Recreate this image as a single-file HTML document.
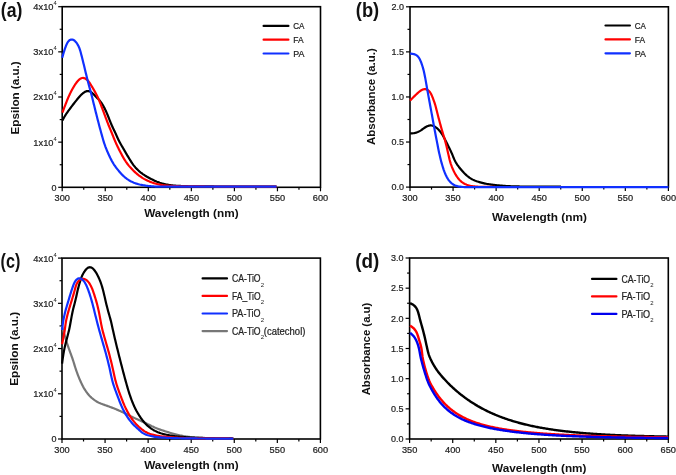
<!DOCTYPE html>
<html><head><meta charset="utf-8"><style>
html,body{margin:0;padding:0;background:#fff;width:676px;height:475px;overflow:hidden;position:relative}
</style></head><body>
<svg width="676" height="475" viewBox="0 0 676 475" style="position:absolute;left:0;top:0;will-change:transform">
<rect x="0" y="0" width="676" height="475" fill="#ffffff"/>
<g font-family='"Liberation Sans", sans-serif'>
<rect x="62.20" y="6.70" width="258.30" height="180.60" fill="none" stroke="#000" stroke-width="1.60"/>
<line x1="62.20" y1="187.30" x2="62.20" y2="191.30" stroke="#000" stroke-width="1.2"/>
<text x="62.20" y="201.20" font-size="9.00" text-anchor="middle" textLength="15.40" lengthAdjust="spacingAndGlyphs" fill="#222" stroke="#222" stroke-width="0.22" >300</text>
<line x1="83.73" y1="187.30" x2="83.73" y2="189.80" stroke="#000" stroke-width="1.2"/>
<line x1="105.25" y1="187.30" x2="105.25" y2="191.30" stroke="#000" stroke-width="1.2"/>
<text x="105.25" y="201.20" font-size="9.00" text-anchor="middle" textLength="15.40" lengthAdjust="spacingAndGlyphs" fill="#222" stroke="#222" stroke-width="0.22" >350</text>
<line x1="126.78" y1="187.30" x2="126.78" y2="189.80" stroke="#000" stroke-width="1.2"/>
<line x1="148.30" y1="187.30" x2="148.30" y2="191.30" stroke="#000" stroke-width="1.2"/>
<text x="148.30" y="201.20" font-size="9.00" text-anchor="middle" textLength="15.40" lengthAdjust="spacingAndGlyphs" fill="#222" stroke="#222" stroke-width="0.22" >400</text>
<line x1="169.83" y1="187.30" x2="169.83" y2="189.80" stroke="#000" stroke-width="1.2"/>
<line x1="191.35" y1="187.30" x2="191.35" y2="191.30" stroke="#000" stroke-width="1.2"/>
<text x="191.35" y="201.20" font-size="9.00" text-anchor="middle" textLength="15.40" lengthAdjust="spacingAndGlyphs" fill="#222" stroke="#222" stroke-width="0.22" >450</text>
<line x1="212.88" y1="187.30" x2="212.88" y2="189.80" stroke="#000" stroke-width="1.2"/>
<line x1="234.40" y1="187.30" x2="234.40" y2="191.30" stroke="#000" stroke-width="1.2"/>
<text x="234.40" y="201.20" font-size="9.00" text-anchor="middle" textLength="15.40" lengthAdjust="spacingAndGlyphs" fill="#222" stroke="#222" stroke-width="0.22" >500</text>
<line x1="255.93" y1="187.30" x2="255.93" y2="189.80" stroke="#000" stroke-width="1.2"/>
<line x1="277.45" y1="187.30" x2="277.45" y2="191.30" stroke="#000" stroke-width="1.2"/>
<text x="277.45" y="201.20" font-size="9.00" text-anchor="middle" textLength="15.40" lengthAdjust="spacingAndGlyphs" fill="#222" stroke="#222" stroke-width="0.22" >550</text>
<line x1="298.97" y1="187.30" x2="298.97" y2="189.80" stroke="#000" stroke-width="1.2"/>
<line x1="320.50" y1="187.30" x2="320.50" y2="191.30" stroke="#000" stroke-width="1.2"/>
<text x="320.50" y="201.20" font-size="9.00" text-anchor="middle" textLength="15.40" lengthAdjust="spacingAndGlyphs" fill="#222" stroke="#222" stroke-width="0.22" >600</text>
<line x1="58.20" y1="187.30" x2="62.20" y2="187.30" stroke="#000" stroke-width="1.2"/>
<line x1="59.70" y1="164.73" x2="62.20" y2="164.73" stroke="#000" stroke-width="1.2"/>
<text x="56.50" y="190.50" font-size="9.00" text-anchor="end" textLength="5.00" lengthAdjust="spacingAndGlyphs" fill="#222" stroke="#222" stroke-width="0.22" >0</text>
<line x1="58.20" y1="142.15" x2="62.20" y2="142.15" stroke="#000" stroke-width="1.2"/>
<line x1="59.70" y1="119.58" x2="62.20" y2="119.58" stroke="#000" stroke-width="1.2"/>
<text x="53.50" y="145.55" font-size="9.60" text-anchor="end" textLength="20.20" lengthAdjust="spacingAndGlyphs" fill="#222" stroke="#222" stroke-width="0.22" >1x10</text>
<text x="53.60" y="140.55" font-size="5.80" text-anchor="start" fill="#222" >4</text>
<line x1="58.20" y1="97.00" x2="62.20" y2="97.00" stroke="#000" stroke-width="1.2"/>
<line x1="59.70" y1="74.42" x2="62.20" y2="74.42" stroke="#000" stroke-width="1.2"/>
<text x="53.50" y="100.40" font-size="9.60" text-anchor="end" textLength="20.20" lengthAdjust="spacingAndGlyphs" fill="#222" stroke="#222" stroke-width="0.22" >2x10</text>
<text x="53.60" y="95.40" font-size="5.80" text-anchor="start" fill="#222" >4</text>
<line x1="58.20" y1="51.85" x2="62.20" y2="51.85" stroke="#000" stroke-width="1.2"/>
<line x1="59.70" y1="29.27" x2="62.20" y2="29.27" stroke="#000" stroke-width="1.2"/>
<text x="53.50" y="55.25" font-size="9.60" text-anchor="end" textLength="20.20" lengthAdjust="spacingAndGlyphs" fill="#222" stroke="#222" stroke-width="0.22" >3x10</text>
<text x="53.60" y="50.25" font-size="5.80" text-anchor="start" fill="#222" >4</text>
<line x1="58.20" y1="6.70" x2="62.20" y2="6.70" stroke="#000" stroke-width="1.2"/>
<text x="53.50" y="10.10" font-size="9.60" text-anchor="end" textLength="20.20" lengthAdjust="spacingAndGlyphs" fill="#222" stroke="#222" stroke-width="0.22" >4x10</text>
<text x="53.60" y="5.10" font-size="5.80" text-anchor="start" fill="#222" >4</text>
<path d="M62.40,120.60 L62.86,119.71 L63.32,118.82 L63.80,117.94 L64.28,117.07 L64.78,116.20 L65.30,115.35 L65.84,114.50 L66.39,113.67 L66.96,112.85 L67.53,112.03 L68.12,111.21 L68.70,110.40 L69.30,109.60 L69.89,108.79 L70.49,107.99 L71.09,107.19 L71.69,106.39 L72.30,105.59 L72.91,104.79 L73.52,104.00 L74.13,103.21 L74.75,102.42 L75.37,101.63 L75.99,100.85 L76.61,100.07 L77.24,99.29 L77.87,98.51 L78.52,97.74 L79.17,96.98 L79.83,96.24 L80.52,95.51 L81.22,94.81 L81.95,94.13 L82.70,93.48 L83.48,92.86 L84.29,92.30 L85.12,91.81 L85.98,91.43 L86.87,91.17 L87.77,91.06 L88.67,91.11 L89.54,91.33 L90.38,91.70 L91.18,92.19 L91.94,92.78 L92.66,93.44 L93.37,94.14 L94.06,94.85 L94.77,95.56 L95.47,96.27 L96.19,96.97 L96.90,97.67 L97.61,98.37 L98.31,99.09 L98.99,99.82 L99.65,100.57 L100.28,101.34 L100.88,102.14 L101.46,102.95 L102.01,103.78 L102.54,104.63 L103.05,105.49 L103.54,106.36 L104.02,107.24 L104.48,108.13 L104.93,109.02 L105.37,109.92 L105.80,110.83 L106.21,111.74 L106.62,112.65 L107.01,113.57 L107.40,114.49 L107.78,115.42 L108.15,116.35 L108.52,117.28 L108.88,118.21 L109.25,119.15 L109.61,120.08 L109.98,121.01 L110.35,121.94 L110.73,122.87 L111.12,123.79 L111.51,124.71 L111.92,125.63 L112.33,126.54 L112.75,127.45 L113.17,128.35 L113.60,129.26 L114.04,130.16 L114.47,131.06 L114.90,131.97 L115.32,132.88 L115.74,133.79 L116.15,134.70 L116.56,135.61 L116.97,136.53 L117.38,137.44 L117.79,138.35 L118.21,139.26 L118.64,140.16 L119.09,141.06 L119.55,141.95 L120.02,142.83 L120.50,143.71 L120.99,144.58 L121.49,145.45 L121.99,146.31 L122.50,147.18 L123.01,148.04 L123.52,148.90 L124.02,149.76 L124.53,150.63 L125.03,151.50 L125.53,152.36 L126.04,153.23 L126.54,154.09 L127.05,154.96 L127.56,155.82 L128.07,156.68 L128.59,157.54 L129.11,158.39 L129.63,159.25 L130.15,160.10 L130.69,160.95 L131.22,161.79 L131.77,162.63 L132.33,163.46 L132.91,164.27 L133.50,165.08 L134.12,165.87 L134.75,166.64 L135.40,167.40 L136.07,168.14 L136.75,168.87 L137.46,169.58 L138.17,170.28 L138.91,170.95 L139.66,171.62 L140.42,172.26 L141.21,172.88 L142.00,173.48 L142.81,174.07 L143.64,174.63 L144.47,175.18 L145.32,175.71 L146.18,176.23 L147.04,176.74 L147.91,177.23 L148.79,177.72 L149.67,178.20 L150.55,178.67 L151.44,179.13 L152.33,179.59 L153.22,180.03 L154.13,180.46 L155.03,180.88 L155.95,181.29 L156.87,181.68 L157.80,182.04 L158.74,182.39 L159.68,182.72 L160.64,183.02 L161.59,183.31 L162.56,183.57 L163.53,183.82 L164.50,184.05 L165.48,184.26 L166.46,184.46 L167.44,184.64 L168.43,184.81 L169.42,184.97 L170.41,185.12 L171.40,185.25 L172.39,185.37 L173.39,185.48 L174.38,185.58 L175.38,185.67 L176.38,185.75 L177.38,185.82 L178.38,185.87 L179.38,185.93 L180.38,185.97 L181.38,186.01 L182.38,186.05 L183.38,186.08 L184.38,186.12 L185.38,186.15 L186.38,186.18 L187.38,186.21 L188.38,186.24 L189.39,186.26 L190.39,186.29 L191.39,186.31 L192.39,186.33 L193.39,186.35 L194.39,186.36 L195.39,186.38 L196.39,186.39 L197.39,186.40 L198.40,186.41 L199.40,186.42 L200.40,186.43 L201.40,186.43 L202.40,186.44 L203.40,186.44 L204.40,186.45 L205.41,186.45 L206.41,186.45 L207.41,186.46 L208.41,186.46 L209.41,186.46 L210.41,186.47 L211.41,186.47 L212.41,186.47 L213.42,186.47 L214.42,186.48 L215.42,186.48 L216.42,186.48 L217.42,186.49 L218.42,186.49 L219.42,186.50 L220.43,186.50 L221.43,186.51 L222.43,186.51 L223.43,186.52 L224.43,186.52 L225.43,186.52 L226.43,186.53 L227.43,186.53 L228.44,186.53 L229.44,186.54 L230.44,186.54 L231.44,186.54 L232.44,186.55 L233.44,186.55 L234.44,186.55 L235.45,186.55 L236.45,186.56 L237.45,186.56 L238.45,186.56 L239.45,186.56 L240.45,186.56 L241.45,186.56 L242.45,186.56 L243.46,186.57 L244.46,186.57 L245.46,186.57 L246.46,186.57 L247.46,186.57 L248.46,186.57 L249.46,186.57 L250.47,186.57 L251.47,186.57 L252.47,186.58 L253.47,186.58 L254.47,186.58 L255.47,186.58 L256.47,186.58 L257.47,186.58 L258.48,186.58 L259.48,186.58 L260.48,186.58 L261.48,186.58 L262.48,186.58 L263.48,186.58 L264.48,186.58 L265.49,186.59 L266.49,186.59 L267.49,186.59 L268.49,186.59 L269.49,186.59 L270.49,186.59 L271.49,186.59 L272.49,186.59 L273.50,186.60 L274.50,186.60 L275.50,186.60 L276.50,186.60 L276.50,186.60" fill="none" stroke="#000000" stroke-width="2.20" stroke-linejoin="round" stroke-linecap="butt"/>
<path d="M62.40,112.60 L62.75,111.66 L63.11,110.73 L63.46,109.79 L63.82,108.86 L64.18,107.92 L64.53,106.98 L64.89,106.05 L65.25,105.11 L65.61,104.18 L65.97,103.24 L66.33,102.31 L66.70,101.38 L67.06,100.45 L67.44,99.52 L67.82,98.59 L68.21,97.67 L68.61,96.76 L69.02,95.84 L69.44,94.93 L69.86,94.03 L70.30,93.12 L70.74,92.23 L71.19,91.33 L71.66,90.45 L72.13,89.57 L72.62,88.69 L73.11,87.82 L73.62,86.96 L74.14,86.10 L74.67,85.25 L75.21,84.41 L75.77,83.59 L76.35,82.77 L76.96,81.98 L77.59,81.22 L78.26,80.48 L78.96,79.80 L79.70,79.18 L80.48,78.66 L81.30,78.26 L82.16,78.01 L83.03,77.95 L83.91,78.06 L84.77,78.33 L85.60,78.75 L86.39,79.28 L87.14,79.90 L87.84,80.58 L88.49,81.32 L89.10,82.10 L89.67,82.92 L90.21,83.75 L90.73,84.60 L91.25,85.46 L91.76,86.32 L92.27,87.18 L92.78,88.04 L93.28,88.91 L93.79,89.77 L94.29,90.64 L94.78,91.51 L95.26,92.39 L95.74,93.27 L96.21,94.15 L96.66,95.04 L97.11,95.94 L97.54,96.84 L97.96,97.75 L98.37,98.66 L98.77,99.58 L99.16,100.50 L99.54,101.43 L99.91,102.36 L100.28,103.29 L100.64,104.22 L101.01,105.16 L101.37,106.09 L101.72,107.03 L102.08,107.96 L102.44,108.90 L102.79,109.83 L103.15,110.77 L103.50,111.71 L103.85,112.64 L104.20,113.58 L104.55,114.52 L104.90,115.46 L105.24,116.40 L105.59,117.34 L105.94,118.28 L106.29,119.22 L106.64,120.15 L106.99,121.09 L107.35,122.03 L107.71,122.96 L108.07,123.89 L108.44,124.82 L108.82,125.75 L109.19,126.68 L109.57,127.60 L109.96,128.53 L110.34,129.45 L110.73,130.38 L111.11,131.30 L111.49,132.23 L111.87,133.16 L112.25,134.08 L112.62,135.01 L112.99,135.94 L113.36,136.87 L113.74,137.80 L114.11,138.73 L114.49,139.66 L114.87,140.58 L115.27,141.50 L115.66,142.42 L116.07,143.34 L116.48,144.25 L116.90,145.16 L117.33,146.06 L117.76,146.97 L118.20,147.86 L118.65,148.76 L119.10,149.66 L119.55,150.55 L120.01,151.44 L120.47,152.33 L120.94,153.21 L121.41,154.10 L121.88,154.98 L122.35,155.86 L122.84,156.74 L123.33,157.61 L123.83,158.47 L124.35,159.33 L124.87,160.18 L125.42,161.02 L125.97,161.85 L126.55,162.67 L127.14,163.48 L127.74,164.28 L128.36,165.06 L128.99,165.84 L129.64,166.60 L130.29,167.36 L130.96,168.10 L131.64,168.84 L132.33,169.56 L133.04,170.27 L133.75,170.97 L134.47,171.66 L135.21,172.34 L135.95,173.01 L136.71,173.67 L137.48,174.31 L138.26,174.93 L139.05,175.55 L139.85,176.14 L140.67,176.72 L141.49,177.28 L142.33,177.82 L143.18,178.35 L144.05,178.86 L144.92,179.34 L145.80,179.81 L146.70,180.26 L147.60,180.69 L148.51,181.11 L149.43,181.50 L150.35,181.88 L151.29,182.23 L152.23,182.57 L153.18,182.89 L154.13,183.20 L155.09,183.49 L156.05,183.76 L157.02,184.01 L157.99,184.24 L158.97,184.46 L159.95,184.66 L160.93,184.85 L161.92,185.02 L162.90,185.17 L163.90,185.30 L164.89,185.42 L165.88,185.53 L166.88,185.62 L167.88,185.70 L168.88,185.77 L169.88,185.83 L170.88,185.89 L171.88,185.94 L172.88,185.99 L173.88,186.04 L174.88,186.08 L175.88,186.13 L176.88,186.16 L177.88,186.20 L178.88,186.23 L179.88,186.26 L180.88,186.29 L181.88,186.31 L182.88,186.33 L183.88,186.35 L184.88,186.37 L185.89,186.38 L186.89,186.39 L187.89,186.40 L188.89,186.41 L189.89,186.42 L190.89,186.43 L191.89,186.43 L192.89,186.44 L193.90,186.44 L194.90,186.45 L195.90,186.45 L196.90,186.45 L197.90,186.46 L198.90,186.46 L199.90,186.46 L200.90,186.46 L201.91,186.47 L202.91,186.47 L203.91,186.47 L204.91,186.48 L205.91,186.48 L206.91,186.48 L207.91,186.49 L208.91,186.49 L209.92,186.50 L210.92,186.51 L211.92,186.51 L212.92,186.52 L213.92,186.52 L214.92,186.53 L215.92,186.53 L216.92,186.54 L217.93,186.54 L218.93,186.54 L219.93,186.55 L220.93,186.55 L221.93,186.55 L222.93,186.56 L223.93,186.56 L224.93,186.56 L225.94,186.56 L226.94,186.57 L227.94,186.57 L228.94,186.57 L229.94,186.57 L230.94,186.57 L231.94,186.57 L232.94,186.58 L233.95,186.58 L234.95,186.58 L235.95,186.58 L236.95,186.58 L237.95,186.58 L238.95,186.58 L239.95,186.58 L240.95,186.58 L241.96,186.58 L242.96,186.58 L243.96,186.58 L244.96,186.58 L245.96,186.58 L246.96,186.58 L247.96,186.58 L248.96,186.59 L249.97,186.59 L250.97,186.59 L251.97,186.59 L252.97,186.59 L253.97,186.59 L254.97,186.59 L255.97,186.59 L256.98,186.59 L257.98,186.59 L258.98,186.59 L259.98,186.59 L260.98,186.59 L261.98,186.59 L262.98,186.59 L263.98,186.59 L264.99,186.59 L265.99,186.59 L266.99,186.59 L267.99,186.59 L268.99,186.59 L269.99,186.59 L270.99,186.59 L271.99,186.59 L273.00,186.60 L274.00,186.60 L275.00,186.60 L276.00,186.60 L276.50,186.60" fill="none" stroke="#ff0000" stroke-width="2.20" stroke-linejoin="round" stroke-linecap="butt"/>
<path d="M62.20,57.80 L62.47,56.84 L62.75,55.87 L63.02,54.91 L63.30,53.95 L63.59,52.99 L63.88,52.04 L64.18,51.08 L64.48,50.13 L64.79,49.18 L65.12,48.23 L65.45,47.29 L65.80,46.35 L66.17,45.42 L66.57,44.51 L66.99,43.61 L67.45,42.74 L67.96,41.91 L68.54,41.16 L69.18,40.50 L69.89,39.98 L70.66,39.63 L71.47,39.48 L72.30,39.53 L73.12,39.79 L73.91,40.21 L74.66,40.76 L75.35,41.42 L76.00,42.15 L76.60,42.93 L77.15,43.75 L77.67,44.60 L78.15,45.47 L78.60,46.36 L79.00,47.27 L79.38,48.20 L79.72,49.13 L80.04,50.08 L80.33,51.04 L80.61,52.00 L80.87,52.96 L81.12,53.93 L81.37,54.90 L81.62,55.87 L81.87,56.84 L82.11,57.81 L82.36,58.78 L82.60,59.75 L82.84,60.72 L83.08,61.69 L83.32,62.66 L83.56,63.64 L83.80,64.61 L84.03,65.58 L84.27,66.55 L84.50,67.53 L84.73,68.50 L84.96,69.47 L85.20,70.45 L85.43,71.42 L85.66,72.39 L85.90,73.37 L86.13,74.34 L86.37,75.31 L86.61,76.28 L86.85,77.26 L87.09,78.23 L87.33,79.20 L87.57,80.17 L87.82,81.14 L88.07,82.11 L88.32,83.08 L88.57,84.04 L88.83,85.01 L89.10,85.98 L89.37,86.94 L89.64,87.90 L89.91,88.87 L90.18,89.83 L90.45,90.79 L90.71,91.76 L90.97,92.73 L91.23,93.69 L91.48,94.66 L91.73,95.63 L91.97,96.60 L92.21,97.57 L92.45,98.55 L92.68,99.52 L92.92,100.49 L93.15,101.46 L93.39,102.44 L93.63,103.41 L93.87,104.38 L94.11,105.35 L94.35,106.32 L94.59,107.30 L94.83,108.27 L95.07,109.24 L95.31,110.21 L95.55,111.18 L95.79,112.15 L96.03,113.12 L96.28,114.09 L96.52,115.06 L96.76,116.04 L97.01,117.01 L97.26,117.98 L97.51,118.94 L97.76,119.91 L98.01,120.88 L98.26,121.85 L98.51,122.82 L98.77,123.79 L99.02,124.76 L99.28,125.72 L99.53,126.69 L99.79,127.66 L100.05,128.62 L100.31,129.59 L100.58,130.56 L100.84,131.52 L101.10,132.49 L101.37,133.45 L101.64,134.41 L101.91,135.38 L102.17,136.34 L102.44,137.31 L102.72,138.27 L102.99,139.23 L103.27,140.19 L103.56,141.15 L103.85,142.11 L104.16,143.06 L104.47,144.01 L104.80,144.96 L105.14,145.90 L105.48,146.84 L105.84,147.77 L106.21,148.70 L106.58,149.63 L106.96,150.55 L107.35,151.47 L107.75,152.39 L108.15,153.31 L108.56,154.22 L108.98,155.13 L109.40,156.04 L109.83,156.95 L110.26,157.85 L110.70,158.74 L111.16,159.63 L111.62,160.52 L112.10,161.40 L112.60,162.27 L113.11,163.13 L113.63,163.98 L114.17,164.82 L114.73,165.65 L115.30,166.47 L115.89,167.28 L116.49,168.08 L117.10,168.87 L117.72,169.65 L118.36,170.42 L119.00,171.19 L119.65,171.95 L120.32,172.70 L120.99,173.44 L121.67,174.17 L122.36,174.89 L123.07,175.60 L123.79,176.29 L124.53,176.95 L125.29,177.60 L126.07,178.22 L126.87,178.82 L127.69,179.39 L128.53,179.93 L129.38,180.45 L130.25,180.94 L131.13,181.41 L132.03,181.85 L132.94,182.26 L133.86,182.65 L134.79,183.02 L135.72,183.36 L136.67,183.67 L137.63,183.96 L138.59,184.23 L139.56,184.48 L140.53,184.70 L141.51,184.91 L142.49,185.11 L143.48,185.29 L144.46,185.45 L145.45,185.60 L146.44,185.74 L147.43,185.87 L148.43,186.00 L149.42,186.11 L150.42,186.21 L151.41,186.29 L152.41,186.37 L153.41,186.43 L154.41,186.49 L155.41,186.53 L156.41,186.56 L157.41,186.58 L158.41,186.59 L159.41,186.60 L160.41,186.60 L161.41,186.60 L162.41,186.60 L163.41,186.59 L164.41,186.59 L165.41,186.59 L166.41,186.59 L167.41,186.59 L168.41,186.59 L169.42,186.60 L170.42,186.61 L171.42,186.61 L172.42,186.62 L173.42,186.63 L174.42,186.63 L175.42,186.64 L176.42,186.65 L177.42,186.65 L178.42,186.66 L179.42,186.66 L180.42,186.67 L181.42,186.67 L182.43,186.67 L183.43,186.68 L184.43,186.68 L185.43,186.68 L186.43,186.68 L187.43,186.68 L188.43,186.69 L189.43,186.69 L190.43,186.69 L191.43,186.69 L192.43,186.69 L193.43,186.69 L194.44,186.69 L195.44,186.69 L196.44,186.69 L197.44,186.69 L198.44,186.69 L199.44,186.70 L200.44,186.69 L201.44,186.69 L202.44,186.69 L203.44,186.69 L204.44,186.69 L205.44,186.69 L206.44,186.69 L207.45,186.69 L208.45,186.69 L209.45,186.69 L210.45,186.69 L211.45,186.69 L212.45,186.69 L213.45,186.69 L214.45,186.68 L215.45,186.68 L216.45,186.68 L217.45,186.68 L218.45,186.68 L219.45,186.68 L220.46,186.68 L221.46,186.68 L222.46,186.67 L223.46,186.67 L224.46,186.67 L225.46,186.67 L226.46,186.67 L227.46,186.67 L228.46,186.66 L229.46,186.66 L230.46,186.66 L231.46,186.66 L232.47,186.66 L233.47,186.66 L234.47,186.65 L235.47,186.65 L236.47,186.65 L237.47,186.65 L238.47,186.65 L239.47,186.64 L240.47,186.64 L241.47,186.64 L242.47,186.64 L243.47,186.64 L244.47,186.64 L245.48,186.63 L246.48,186.63 L247.48,186.63 L248.48,186.63 L249.48,186.63 L250.48,186.63 L251.48,186.62 L252.48,186.62 L253.48,186.62 L254.48,186.62 L255.48,186.62 L256.48,186.62 L257.48,186.62 L258.49,186.61 L259.49,186.61 L260.49,186.61 L261.49,186.61 L262.49,186.61 L263.49,186.61 L264.49,186.61 L265.49,186.61 L266.49,186.61 L267.49,186.60 L268.49,186.60 L269.49,186.60 L270.50,186.60 L271.50,186.60 L272.50,186.60 L273.50,186.60 L274.50,186.60 L275.50,186.60 L276.50,186.60 L276.50,186.60" fill="none" stroke="#1030ff" stroke-width="2.20" stroke-linejoin="round" stroke-linecap="butt"/>
<text x="191.40" y="216.60" font-size="11.70" text-anchor="middle" font-weight="bold" textLength="94.40" lengthAdjust="spacingAndGlyphs" fill="#111" >Wavelength (nm)</text>
<text x="19.20" y="97.90" font-size="11.60" text-anchor="middle" font-weight="bold" textLength="73.00" lengthAdjust="spacingAndGlyphs" transform="rotate(-90 19.20 97.90)" fill="#111" >Epsilon (a.u.)</text>
<text x="0.80" y="16.90" font-size="19.60" text-anchor="start" font-weight="bold" textLength="21.60" lengthAdjust="spacingAndGlyphs" fill="#111" >(a)</text>
<line x1="263.6" y1="25.90" x2="288.4" y2="25.90" stroke="#000000" stroke-width="2.2" stroke-linecap="round"/>
<text x="293.30" y="29.10" font-size="9.40" text-anchor="start" textLength="11.20" lengthAdjust="spacingAndGlyphs" fill="#222" stroke="#222" stroke-width="0.22" >CA</text>
<line x1="263.6" y1="39.70" x2="288.4" y2="39.70" stroke="#ff0000" stroke-width="2.2" stroke-linecap="round"/>
<text x="293.30" y="42.90" font-size="9.40" text-anchor="start" textLength="10.30" lengthAdjust="spacingAndGlyphs" fill="#222" stroke="#222" stroke-width="0.22" >FA</text>
<line x1="263.6" y1="53.50" x2="288.4" y2="53.50" stroke="#1030ff" stroke-width="2.2" stroke-linecap="round"/>
<text x="293.30" y="56.70" font-size="9.40" text-anchor="start" textLength="11.20" lengthAdjust="spacingAndGlyphs" fill="#222" stroke="#222" stroke-width="0.22" >PA</text>
<rect x="410.00" y="6.80" width="258.40" height="180.30" fill="none" stroke="#000" stroke-width="1.60"/>
<line x1="410.00" y1="187.10" x2="410.00" y2="191.10" stroke="#000" stroke-width="1.2"/>
<text x="410.00" y="201.00" font-size="9.00" text-anchor="middle" textLength="15.40" lengthAdjust="spacingAndGlyphs" fill="#222" stroke="#222" stroke-width="0.22" >300</text>
<line x1="431.53" y1="187.10" x2="431.53" y2="189.60" stroke="#000" stroke-width="1.2"/>
<line x1="453.07" y1="187.10" x2="453.07" y2="191.10" stroke="#000" stroke-width="1.2"/>
<text x="453.07" y="201.00" font-size="9.00" text-anchor="middle" textLength="15.40" lengthAdjust="spacingAndGlyphs" fill="#222" stroke="#222" stroke-width="0.22" >350</text>
<line x1="474.60" y1="187.10" x2="474.60" y2="189.60" stroke="#000" stroke-width="1.2"/>
<line x1="496.13" y1="187.10" x2="496.13" y2="191.10" stroke="#000" stroke-width="1.2"/>
<text x="496.13" y="201.00" font-size="9.00" text-anchor="middle" textLength="15.40" lengthAdjust="spacingAndGlyphs" fill="#222" stroke="#222" stroke-width="0.22" >400</text>
<line x1="517.67" y1="187.10" x2="517.67" y2="189.60" stroke="#000" stroke-width="1.2"/>
<line x1="539.20" y1="187.10" x2="539.20" y2="191.10" stroke="#000" stroke-width="1.2"/>
<text x="539.20" y="201.00" font-size="9.00" text-anchor="middle" textLength="15.40" lengthAdjust="spacingAndGlyphs" fill="#222" stroke="#222" stroke-width="0.22" >450</text>
<line x1="560.73" y1="187.10" x2="560.73" y2="189.60" stroke="#000" stroke-width="1.2"/>
<line x1="582.27" y1="187.10" x2="582.27" y2="191.10" stroke="#000" stroke-width="1.2"/>
<text x="582.27" y="201.00" font-size="9.00" text-anchor="middle" textLength="15.40" lengthAdjust="spacingAndGlyphs" fill="#222" stroke="#222" stroke-width="0.22" >500</text>
<line x1="603.80" y1="187.10" x2="603.80" y2="189.60" stroke="#000" stroke-width="1.2"/>
<line x1="625.33" y1="187.10" x2="625.33" y2="191.10" stroke="#000" stroke-width="1.2"/>
<text x="625.33" y="201.00" font-size="9.00" text-anchor="middle" textLength="15.40" lengthAdjust="spacingAndGlyphs" fill="#222" stroke="#222" stroke-width="0.22" >550</text>
<line x1="646.87" y1="187.10" x2="646.87" y2="189.60" stroke="#000" stroke-width="1.2"/>
<line x1="668.40" y1="187.10" x2="668.40" y2="191.10" stroke="#000" stroke-width="1.2"/>
<text x="668.40" y="201.00" font-size="9.00" text-anchor="middle" textLength="15.40" lengthAdjust="spacingAndGlyphs" fill="#222" stroke="#222" stroke-width="0.22" >600</text>
<line x1="406.00" y1="187.10" x2="410.00" y2="187.10" stroke="#000" stroke-width="1.2"/>
<line x1="407.50" y1="164.56" x2="410.00" y2="164.56" stroke="#000" stroke-width="1.2"/>
<text x="404.10" y="190.30" font-size="9.00" text-anchor="end" textLength="12.50" lengthAdjust="spacingAndGlyphs" fill="#222" stroke="#222" stroke-width="0.22" >0.0</text>
<line x1="406.00" y1="142.03" x2="410.00" y2="142.03" stroke="#000" stroke-width="1.2"/>
<line x1="407.50" y1="119.49" x2="410.00" y2="119.49" stroke="#000" stroke-width="1.2"/>
<text x="404.10" y="145.22" font-size="9.00" text-anchor="end" textLength="12.50" lengthAdjust="spacingAndGlyphs" fill="#222" stroke="#222" stroke-width="0.22" >0.5</text>
<line x1="406.00" y1="96.95" x2="410.00" y2="96.95" stroke="#000" stroke-width="1.2"/>
<line x1="407.50" y1="74.41" x2="410.00" y2="74.41" stroke="#000" stroke-width="1.2"/>
<text x="404.10" y="100.15" font-size="9.00" text-anchor="end" textLength="12.50" lengthAdjust="spacingAndGlyphs" fill="#222" stroke="#222" stroke-width="0.22" >1.0</text>
<line x1="406.00" y1="51.88" x2="410.00" y2="51.88" stroke="#000" stroke-width="1.2"/>
<line x1="407.50" y1="29.34" x2="410.00" y2="29.34" stroke="#000" stroke-width="1.2"/>
<text x="404.10" y="55.08" font-size="9.00" text-anchor="end" textLength="12.50" lengthAdjust="spacingAndGlyphs" fill="#222" stroke="#222" stroke-width="0.22" >1.5</text>
<line x1="406.00" y1="6.80" x2="410.00" y2="6.80" stroke="#000" stroke-width="1.2"/>
<text x="404.10" y="10.00" font-size="9.00" text-anchor="end" textLength="12.50" lengthAdjust="spacingAndGlyphs" fill="#222" stroke="#222" stroke-width="0.22" >2.0</text>
<path d="M410.10,133.50 L411.10,133.43 L412.09,133.35 L413.08,133.24 L414.06,133.09 L415.03,132.90 L415.99,132.65 L416.93,132.35 L417.85,131.99 L418.75,131.58 L419.63,131.12 L420.48,130.61 L421.31,130.07 L422.13,129.50 L422.94,128.92 L423.75,128.34 L424.57,127.78 L425.40,127.24 L426.26,126.75 L427.14,126.30 L428.04,125.93 L428.96,125.65 L429.89,125.47 L430.83,125.42 L431.76,125.51 L432.68,125.72 L433.57,126.05 L434.45,126.48 L435.29,126.98 L436.10,127.54 L436.88,128.14 L437.63,128.79 L438.35,129.48 L439.04,130.19 L439.70,130.94 L440.33,131.71 L440.92,132.51 L441.49,133.33 L442.03,134.16 L442.55,135.02 L443.06,135.88 L443.55,136.75 L444.03,137.63 L444.50,138.51 L444.96,139.39 L445.42,140.28 L445.87,141.18 L446.32,142.07 L446.76,142.97 L447.20,143.86 L447.65,144.76 L448.09,145.66 L448.53,146.55 L448.98,147.45 L449.43,148.34 L449.87,149.24 L450.31,150.14 L450.74,151.04 L451.16,151.94 L451.57,152.86 L451.97,153.77 L452.36,154.69 L452.73,155.62 L453.11,156.55 L453.48,157.47 L453.87,158.39 L454.27,159.31 L454.69,160.21 L455.14,161.10 L455.62,161.98 L456.12,162.84 L456.64,163.69 L457.19,164.53 L457.75,165.35 L458.33,166.16 L458.92,166.97 L459.53,167.76 L460.15,168.54 L460.79,169.32 L461.43,170.08 L462.09,170.83 L462.76,171.57 L463.45,172.30 L464.14,173.02 L464.85,173.72 L465.57,174.42 L466.30,175.09 L467.05,175.75 L467.82,176.39 L468.61,177.00 L469.41,177.59 L470.24,178.14 L471.08,178.67 L471.95,179.16 L472.83,179.62 L473.73,180.05 L474.64,180.45 L475.57,180.83 L476.50,181.18 L477.45,181.50 L478.40,181.81 L479.35,182.10 L480.31,182.38 L481.28,182.64 L482.24,182.90 L483.21,183.14 L484.19,183.36 L485.16,183.57 L486.14,183.77 L487.13,183.96 L488.11,184.13 L489.10,184.28 L490.09,184.43 L491.08,184.57 L492.07,184.70 L493.06,184.82 L494.05,184.94 L495.05,185.05 L496.04,185.16 L497.04,185.27 L498.03,185.37 L499.03,185.46 L500.02,185.55 L501.02,185.64 L502.01,185.72 L503.01,185.79 L504.01,185.86 L505.01,185.92 L506.01,185.98 L507.00,186.04 L508.00,186.09 L509.00,186.14 L510.00,186.19 L511.00,186.23 L512.00,186.27 L513.00,186.31 L514.00,186.34 L515.00,186.37 L516.00,186.40 L517.00,186.42 L518.00,186.44 L519.00,186.46 L520.00,186.48 L521.00,186.49 L522.00,186.51 L523.00,186.52 L524.00,186.53 L525.00,186.54 L526.00,186.56 L527.00,186.57 L528.00,186.58 L529.00,186.59 L530.00,186.60 L531.00,186.61 L532.00,186.62 L533.00,186.63 L534.00,186.63 L535.00,186.64 L536.00,186.65 L537.00,186.65 L538.00,186.66 L539.00,186.66 L540.00,186.67 L541.00,186.67 L542.00,186.67 L543.00,186.67 L544.00,186.68 L545.00,186.68 L546.00,186.68 L547.00,186.68 L548.00,186.68 L549.00,186.68 L550.00,186.68 L551.00,186.68 L552.00,186.68 L553.00,186.69 L554.00,186.69 L555.00,186.69 L556.00,186.69 L557.00,186.69 L558.00,186.69 L559.00,186.70 L560.00,186.70 L561.00,186.70 L561.00,186.70" fill="none" stroke="#000000" stroke-width="2.20" stroke-linejoin="round" stroke-linecap="butt"/>
<path d="M410.00,100.60 L410.71,99.89 L411.41,99.18 L412.12,98.47 L412.82,97.76 L413.53,97.06 L414.25,96.35 L414.96,95.65 L415.68,94.96 L416.40,94.26 L417.13,93.58 L417.87,92.90 L418.62,92.24 L419.39,91.61 L420.17,91.00 L420.98,90.45 L421.82,89.96 L422.69,89.57 L423.59,89.29 L424.50,89.16 L425.41,89.18 L426.30,89.35 L427.16,89.68 L427.96,90.15 L428.70,90.74 L429.37,91.42 L429.97,92.18 L430.51,92.99 L431.00,93.85 L431.45,94.74 L431.86,95.64 L432.25,96.57 L432.62,97.49 L432.97,98.43 L433.32,99.37 L433.67,100.31 L434.00,101.25 L434.33,102.19 L434.65,103.14 L434.96,104.09 L435.25,105.05 L435.53,106.01 L435.80,106.98 L436.05,107.94 L436.30,108.91 L436.54,109.89 L436.78,110.86 L437.02,111.83 L437.26,112.80 L437.51,113.77 L437.76,114.74 L438.01,115.71 L438.27,116.68 L438.52,117.65 L438.78,118.61 L439.03,119.58 L439.29,120.55 L439.55,121.52 L439.81,122.48 L440.07,123.45 L440.33,124.41 L440.60,125.38 L440.87,126.35 L441.13,127.31 L441.41,128.27 L441.68,129.24 L441.96,130.20 L442.24,131.16 L442.53,132.12 L442.82,133.07 L443.11,134.03 L443.41,134.99 L443.70,135.95 L443.99,136.90 L444.28,137.86 L444.56,138.82 L444.84,139.79 L445.11,140.75 L445.37,141.71 L445.63,142.68 L445.88,143.65 L446.12,144.62 L446.35,145.60 L446.59,146.57 L446.81,147.55 L447.04,148.52 L447.26,149.50 L447.49,150.47 L447.71,151.45 L447.93,152.42 L448.15,153.40 L448.37,154.38 L448.59,155.35 L448.81,156.33 L449.03,157.31 L449.26,158.28 L449.49,159.26 L449.74,160.22 L450.00,161.19 L450.28,162.15 L450.57,163.11 L450.88,164.06 L451.21,165.00 L451.55,165.94 L451.91,166.88 L452.29,167.80 L452.68,168.73 L453.08,169.64 L453.50,170.55 L453.94,171.45 L454.39,172.34 L454.86,173.22 L455.35,174.09 L455.86,174.95 L456.39,175.80 L456.93,176.64 L457.50,177.46 L458.10,178.26 L458.73,179.03 L459.38,179.78 L460.07,180.49 L460.80,181.16 L461.56,181.80 L462.36,182.39 L463.18,182.95 L464.04,183.45 L464.91,183.92 L465.81,184.35 L466.73,184.73 L467.66,185.07 L468.61,185.37 L469.57,185.63 L470.54,185.85 L471.52,186.04 L472.51,186.20 L473.50,186.33 L474.50,186.44 L475.49,186.53 L476.49,186.61 L477.49,186.68 L478.49,186.74 L479.49,186.79 L480.49,186.83 L481.49,186.86 L482.49,186.89 L483.49,186.90 L484.49,186.91 L485.49,186.91 L486.49,186.91 L487.49,186.91 L488.49,186.91 L489.49,186.90 L490.49,186.90 L491.50,186.90 L492.50,186.90 L493.50,186.90 L494.50,186.90 L495.00,186.90" fill="none" stroke="#ff0000" stroke-width="2.20" stroke-linejoin="round" stroke-linecap="butt"/>
<path d="M410.10,53.60 L411.09,53.69 L412.08,53.79 L413.05,53.95 L414.00,54.16 L414.91,54.46 L415.78,54.85 L416.60,55.35 L417.35,55.94 L418.03,56.62 L418.63,57.37 L419.18,58.18 L419.66,59.04 L420.10,59.93 L420.51,60.84 L420.89,61.76 L421.25,62.69 L421.59,63.63 L421.92,64.57 L422.23,65.52 L422.53,66.48 L422.82,67.44 L423.09,68.40 L423.35,69.36 L423.60,70.33 L423.84,71.30 L424.06,72.28 L424.27,73.25 L424.48,74.23 L424.68,75.21 L424.88,76.19 L425.07,77.18 L425.26,78.16 L425.44,79.14 L425.62,80.13 L425.80,81.11 L425.98,82.09 L426.15,83.08 L426.32,84.07 L426.49,85.05 L426.66,86.04 L426.83,87.02 L427.01,88.01 L427.18,88.99 L427.35,89.98 L427.53,90.96 L427.71,91.95 L427.88,92.93 L428.06,93.92 L428.24,94.90 L428.42,95.89 L428.60,96.87 L428.78,97.85 L428.96,98.84 L429.14,99.82 L429.32,100.81 L429.50,101.79 L429.69,102.77 L429.87,103.76 L430.05,104.74 L430.23,105.72 L430.42,106.71 L430.60,107.69 L430.78,108.68 L430.96,109.66 L431.14,110.64 L431.32,111.63 L431.50,112.61 L431.68,113.60 L431.87,114.58 L432.05,115.56 L432.23,116.55 L432.41,117.53 L432.59,118.52 L432.76,119.50 L432.94,120.48 L433.12,121.47 L433.30,122.45 L433.48,123.44 L433.66,124.42 L433.84,125.41 L434.02,126.39 L434.20,127.37 L434.38,128.36 L434.56,129.34 L434.74,130.33 L434.92,131.31 L435.11,132.29 L435.30,133.28 L435.48,134.26 L435.67,135.24 L435.86,136.22 L436.06,137.20 L436.25,138.19 L436.44,139.17 L436.63,140.15 L436.82,141.13 L437.01,142.11 L437.20,143.10 L437.39,144.08 L437.58,145.06 L437.76,146.04 L437.95,147.03 L438.14,148.01 L438.34,148.99 L438.53,149.97 L438.74,150.95 L438.94,151.93 L439.15,152.91 L439.37,153.88 L439.59,154.86 L439.81,155.84 L440.04,156.81 L440.27,157.78 L440.51,158.75 L440.75,159.73 L441.00,160.69 L441.26,161.66 L441.52,162.63 L441.79,163.59 L442.07,164.55 L442.35,165.51 L442.64,166.47 L442.93,167.42 L443.24,168.38 L443.55,169.33 L443.88,170.27 L444.22,171.21 L444.57,172.15 L444.94,173.07 L445.33,173.99 L445.74,174.91 L446.17,175.81 L446.61,176.70 L447.09,177.58 L447.59,178.44 L448.12,179.28 L448.68,180.10 L449.29,180.88 L449.93,181.64 L450.62,182.35 L451.34,183.03 L452.11,183.65 L452.91,184.23 L453.74,184.74 L454.62,185.20 L455.52,185.59 L456.45,185.92 L457.40,186.18 L458.37,186.40 L459.35,186.57 L460.34,186.70 L461.33,186.81 L462.32,186.91 L463.32,186.98 L464.32,187.05 L465.32,187.10 L466.31,187.13 L467.31,187.16 L468.31,187.17 L469.31,187.18 L470.31,187.18 L471.32,187.17 L472.32,187.16 L473.32,187.15 L474.32,187.14 L475.32,187.13 L476.32,187.12 L477.32,187.11 L478.32,187.11 L479.32,187.10 L480.32,187.10 L481.32,187.10 L482.32,187.11 L483.32,187.11 L484.32,187.11 L485.32,187.11 L486.32,187.11 L487.32,187.12 L488.32,187.12 L489.32,187.12 L490.32,187.12 L491.32,187.12 L492.32,187.12 L493.32,187.12 L494.32,187.12 L495.33,187.13 L496.33,187.13 L497.33,187.13 L498.33,187.13 L499.33,187.13 L500.33,187.13 L501.33,187.13 L502.33,187.13 L503.33,187.13 L504.33,187.13 L505.33,187.13 L506.33,187.13 L507.33,187.13 L508.33,187.13 L509.33,187.13 L510.33,187.14 L511.33,187.14 L512.33,187.14 L513.33,187.14 L514.33,187.14 L515.33,187.14 L516.33,187.14 L517.33,187.14 L518.34,187.14 L519.34,187.14 L520.34,187.14 L521.34,187.14 L522.34,187.14 L523.34,187.14 L524.34,187.14 L525.34,187.14 L526.34,187.14 L527.34,187.14 L528.34,187.14 L529.34,187.14 L530.34,187.14 L531.34,187.14 L532.34,187.14 L533.34,187.14 L534.34,187.14 L535.34,187.14 L536.34,187.14 L537.34,187.14 L538.34,187.14 L539.34,187.14 L540.34,187.14 L541.35,187.14 L542.35,187.14 L543.35,187.14 L544.35,187.14 L545.35,187.14 L546.35,187.14 L547.35,187.14 L548.35,187.14 L549.35,187.14 L550.35,187.14 L551.35,187.13 L552.35,187.13 L553.35,187.13 L554.35,187.13 L555.35,187.13 L556.35,187.13 L557.35,187.13 L558.35,187.13 L559.35,187.13 L560.35,187.13 L561.35,187.13 L562.35,187.13 L563.35,187.13 L564.36,187.13 L565.36,187.13 L566.36,187.13 L567.36,187.13 L568.36,187.13 L569.36,187.13 L570.36,187.13 L571.36,187.13 L572.36,187.13 L573.36,187.13 L574.36,187.13 L575.36,187.13 L576.36,187.13 L577.36,187.13 L578.36,187.13 L579.36,187.13 L580.36,187.13 L581.36,187.13 L582.36,187.13 L583.36,187.12 L584.36,187.12 L585.36,187.12 L586.36,187.12 L587.36,187.12 L588.37,187.12 L589.37,187.12 L590.37,187.12 L591.37,187.12 L592.37,187.12 L593.37,187.12 L594.37,187.12 L595.37,187.12 L596.37,187.12 L597.37,187.12 L598.37,187.12 L599.37,187.12 L600.37,187.12 L601.37,187.12 L602.37,187.12 L603.37,187.12 L604.37,187.12 L605.37,187.12 L606.37,187.12 L607.37,187.12 L608.37,187.12 L609.37,187.11 L610.37,187.11 L611.38,187.11 L612.38,187.11 L613.38,187.11 L614.38,187.11 L615.38,187.11 L616.38,187.11 L617.38,187.11 L618.38,187.11 L619.38,187.11 L620.38,187.11 L621.38,187.11 L622.38,187.11 L623.38,187.11 L624.38,187.11 L625.38,187.11 L626.38,187.11 L627.38,187.11 L628.38,187.11 L629.38,187.11 L630.38,187.11 L631.38,187.11 L632.38,187.11 L633.38,187.11 L634.39,187.11 L635.39,187.11 L636.39,187.11 L637.39,187.11 L638.39,187.10 L639.39,187.10 L640.39,187.10 L641.39,187.10 L642.39,187.10 L643.39,187.10 L644.39,187.10 L645.39,187.10 L646.39,187.10 L647.39,187.10 L648.39,187.10 L649.39,187.10 L650.39,187.10 L651.39,187.10 L652.39,187.10 L653.39,187.10 L654.39,187.10 L655.39,187.10 L656.39,187.10 L657.40,187.10 L658.40,187.10 L659.40,187.10 L660.40,187.10 L661.40,187.10 L662.40,187.10 L663.40,187.10 L664.40,187.10 L665.40,187.10 L666.40,187.10 L667.40,187.10 L668.40,187.10 L668.40,187.10" fill="none" stroke="#1030ff" stroke-width="2.20" stroke-linejoin="round" stroke-linecap="butt"/>
<text x="539.50" y="220.50" font-size="11.70" text-anchor="middle" font-weight="bold" textLength="94.80" lengthAdjust="spacingAndGlyphs" fill="#111" >Wavelength (nm)</text>
<text x="374.70" y="96.60" font-size="11.50" text-anchor="middle" font-weight="bold" textLength="96.80" lengthAdjust="spacingAndGlyphs" transform="rotate(-90 374.70 96.60)" fill="#111" >Absorbance (a.u.)</text>
<text x="355.80" y="16.90" font-size="19.60" text-anchor="start" font-weight="bold" textLength="23.40" lengthAdjust="spacingAndGlyphs" fill="#111" >(b)</text>
<line x1="605.5" y1="25.50" x2="629.9" y2="25.50" stroke="#000000" stroke-width="2.2" stroke-linecap="round"/>
<text x="634.80" y="28.70" font-size="9.40" text-anchor="start" textLength="11.20" lengthAdjust="spacingAndGlyphs" fill="#222" stroke="#222" stroke-width="0.22" >CA</text>
<line x1="605.5" y1="39.40" x2="629.9" y2="39.40" stroke="#ff0000" stroke-width="2.2" stroke-linecap="round"/>
<text x="634.80" y="42.60" font-size="9.40" text-anchor="start" textLength="10.30" lengthAdjust="spacingAndGlyphs" fill="#222" stroke="#222" stroke-width="0.22" >FA</text>
<line x1="605.5" y1="53.30" x2="629.9" y2="53.30" stroke="#1030ff" stroke-width="2.2" stroke-linecap="round"/>
<text x="634.80" y="56.50" font-size="9.40" text-anchor="start" textLength="11.20" lengthAdjust="spacingAndGlyphs" fill="#222" stroke="#222" stroke-width="0.22" >PA</text>
<rect x="62.00" y="258.10" width="258.40" height="180.90" fill="none" stroke="#000" stroke-width="1.60"/>
<line x1="62.00" y1="439.00" x2="62.00" y2="443.00" stroke="#000" stroke-width="1.2"/>
<text x="62.00" y="452.80" font-size="9.00" text-anchor="middle" textLength="15.40" lengthAdjust="spacingAndGlyphs" fill="#222" stroke="#222" stroke-width="0.22" >300</text>
<line x1="83.53" y1="439.00" x2="83.53" y2="441.50" stroke="#000" stroke-width="1.2"/>
<line x1="105.07" y1="439.00" x2="105.07" y2="443.00" stroke="#000" stroke-width="1.2"/>
<text x="105.07" y="452.80" font-size="9.00" text-anchor="middle" textLength="15.40" lengthAdjust="spacingAndGlyphs" fill="#222" stroke="#222" stroke-width="0.22" >350</text>
<line x1="126.60" y1="439.00" x2="126.60" y2="441.50" stroke="#000" stroke-width="1.2"/>
<line x1="148.13" y1="439.00" x2="148.13" y2="443.00" stroke="#000" stroke-width="1.2"/>
<text x="148.13" y="452.80" font-size="9.00" text-anchor="middle" textLength="15.40" lengthAdjust="spacingAndGlyphs" fill="#222" stroke="#222" stroke-width="0.22" >400</text>
<line x1="169.67" y1="439.00" x2="169.67" y2="441.50" stroke="#000" stroke-width="1.2"/>
<line x1="191.20" y1="439.00" x2="191.20" y2="443.00" stroke="#000" stroke-width="1.2"/>
<text x="191.20" y="452.80" font-size="9.00" text-anchor="middle" textLength="15.40" lengthAdjust="spacingAndGlyphs" fill="#222" stroke="#222" stroke-width="0.22" >450</text>
<line x1="212.73" y1="439.00" x2="212.73" y2="441.50" stroke="#000" stroke-width="1.2"/>
<line x1="234.27" y1="439.00" x2="234.27" y2="443.00" stroke="#000" stroke-width="1.2"/>
<text x="234.27" y="452.80" font-size="9.00" text-anchor="middle" textLength="15.40" lengthAdjust="spacingAndGlyphs" fill="#222" stroke="#222" stroke-width="0.22" >500</text>
<line x1="255.80" y1="439.00" x2="255.80" y2="441.50" stroke="#000" stroke-width="1.2"/>
<line x1="277.33" y1="439.00" x2="277.33" y2="443.00" stroke="#000" stroke-width="1.2"/>
<text x="277.33" y="452.80" font-size="9.00" text-anchor="middle" textLength="15.40" lengthAdjust="spacingAndGlyphs" fill="#222" stroke="#222" stroke-width="0.22" >550</text>
<line x1="298.87" y1="439.00" x2="298.87" y2="441.50" stroke="#000" stroke-width="1.2"/>
<line x1="320.40" y1="439.00" x2="320.40" y2="443.00" stroke="#000" stroke-width="1.2"/>
<text x="320.40" y="452.80" font-size="9.00" text-anchor="middle" textLength="15.40" lengthAdjust="spacingAndGlyphs" fill="#222" stroke="#222" stroke-width="0.22" >600</text>
<line x1="58.00" y1="439.00" x2="62.00" y2="439.00" stroke="#000" stroke-width="1.2"/>
<line x1="59.50" y1="416.39" x2="62.00" y2="416.39" stroke="#000" stroke-width="1.2"/>
<text x="56.50" y="442.20" font-size="9.00" text-anchor="end" textLength="5.00" lengthAdjust="spacingAndGlyphs" fill="#222" stroke="#222" stroke-width="0.22" >0</text>
<line x1="58.00" y1="393.77" x2="62.00" y2="393.77" stroke="#000" stroke-width="1.2"/>
<line x1="59.50" y1="371.16" x2="62.00" y2="371.16" stroke="#000" stroke-width="1.2"/>
<text x="53.50" y="397.17" font-size="9.60" text-anchor="end" textLength="20.20" lengthAdjust="spacingAndGlyphs" fill="#222" stroke="#222" stroke-width="0.22" >1x10</text>
<text x="53.60" y="392.17" font-size="5.80" text-anchor="start" fill="#222" >4</text>
<line x1="58.00" y1="348.55" x2="62.00" y2="348.55" stroke="#000" stroke-width="1.2"/>
<line x1="59.50" y1="325.94" x2="62.00" y2="325.94" stroke="#000" stroke-width="1.2"/>
<text x="53.50" y="351.95" font-size="9.60" text-anchor="end" textLength="20.20" lengthAdjust="spacingAndGlyphs" fill="#222" stroke="#222" stroke-width="0.22" >2x10</text>
<text x="53.60" y="346.95" font-size="5.80" text-anchor="start" fill="#222" >4</text>
<line x1="58.00" y1="303.33" x2="62.00" y2="303.33" stroke="#000" stroke-width="1.2"/>
<line x1="59.50" y1="280.71" x2="62.00" y2="280.71" stroke="#000" stroke-width="1.2"/>
<text x="53.50" y="306.73" font-size="9.60" text-anchor="end" textLength="20.20" lengthAdjust="spacingAndGlyphs" fill="#222" stroke="#222" stroke-width="0.22" >3x10</text>
<text x="53.60" y="301.73" font-size="5.80" text-anchor="start" fill="#222" >4</text>
<line x1="58.00" y1="258.10" x2="62.00" y2="258.10" stroke="#000" stroke-width="1.2"/>
<text x="53.50" y="261.50" font-size="9.60" text-anchor="end" textLength="20.20" lengthAdjust="spacingAndGlyphs" fill="#222" stroke="#222" stroke-width="0.22" >4x10</text>
<text x="53.60" y="256.50" font-size="5.80" text-anchor="start" fill="#222" >4</text>
<path d="M62.00,326.00 L62.27,326.96 L62.54,327.93 L62.81,328.89 L63.09,329.86 L63.36,330.82 L63.63,331.79 L63.90,332.75 L64.17,333.71 L64.45,334.68 L64.72,335.64 L65.00,336.60 L65.28,337.56 L65.57,338.52 L65.86,339.48 L66.15,340.44 L66.45,341.40 L66.75,342.35 L67.06,343.31 L67.37,344.26 L67.68,345.21 L68.00,346.16 L68.33,347.11 L68.66,348.05 L68.99,349.00 L69.33,349.94 L69.67,350.88 L70.02,351.82 L70.37,352.76 L70.71,353.70 L71.06,354.64 L71.40,355.58 L71.74,356.53 L72.07,357.47 L72.40,358.42 L72.72,359.36 L73.04,360.32 L73.35,361.27 L73.65,362.22 L73.94,363.18 L74.23,364.14 L74.53,365.10 L74.82,366.06 L75.12,367.01 L75.42,367.97 L75.73,368.92 L76.05,369.87 L76.38,370.81 L76.71,371.76 L77.05,372.70 L77.39,373.64 L77.74,374.58 L78.10,375.52 L78.47,376.45 L78.84,377.38 L79.22,378.30 L79.61,379.23 L80.01,380.15 L80.41,381.06 L80.82,381.98 L81.24,382.89 L81.67,383.79 L82.11,384.69 L82.56,385.59 L83.02,386.47 L83.51,387.35 L84.00,388.22 L84.52,389.08 L85.05,389.92 L85.60,390.76 L86.16,391.59 L86.74,392.40 L87.34,393.20 L87.97,393.98 L88.61,394.75 L89.27,395.49 L89.96,396.22 L90.67,396.92 L91.40,397.60 L92.15,398.26 L92.93,398.89 L93.72,399.50 L94.52,400.09 L95.35,400.65 L96.19,401.19 L97.05,401.70 L97.92,402.18 L98.81,402.64 L99.72,403.06 L100.63,403.45 L101.56,403.82 L102.50,404.18 L103.44,404.52 L104.38,404.86 L105.32,405.20 L106.27,405.54 L107.21,405.88 L108.15,406.22 L109.09,406.57 L110.03,406.92 L110.97,407.27 L111.91,407.62 L112.84,407.98 L113.77,408.34 L114.70,408.71 L115.63,409.09 L116.56,409.47 L117.48,409.87 L118.40,410.27 L119.31,410.68 L120.22,411.09 L121.13,411.51 L122.04,411.94 L122.94,412.37 L123.84,412.81 L124.74,413.25 L125.64,413.69 L126.54,414.13 L127.44,414.58 L128.33,415.03 L129.23,415.47 L130.12,415.92 L131.02,416.37 L131.92,416.82 L132.82,417.26 L133.72,417.69 L134.62,418.12 L135.53,418.54 L136.45,418.96 L137.36,419.37 L138.28,419.77 L139.19,420.17 L140.11,420.58 L141.03,420.98 L141.94,421.39 L142.85,421.80 L143.76,422.22 L144.67,422.64 L145.58,423.07 L146.48,423.51 L147.38,423.95 L148.28,424.39 L149.18,424.83 L150.08,425.27 L150.98,425.71 L151.88,426.15 L152.79,426.57 L153.70,426.99 L154.61,427.40 L155.53,427.79 L156.45,428.18 L157.38,428.55 L158.32,428.91 L159.26,429.26 L160.20,429.60 L161.15,429.93 L162.09,430.25 L163.04,430.57 L163.99,430.88 L164.95,431.19 L165.90,431.50 L166.85,431.81 L167.81,432.12 L168.76,432.42 L169.72,432.72 L170.67,433.02 L171.63,433.31 L172.59,433.59 L173.56,433.86 L174.52,434.13 L175.49,434.38 L176.46,434.63 L177.44,434.86 L178.41,435.09 L179.39,435.30 L180.37,435.50 L181.35,435.70 L182.34,435.88 L183.32,436.06 L184.31,436.22 L185.30,436.38 L186.29,436.53 L187.28,436.68 L188.27,436.81 L189.27,436.93 L190.26,437.05 L191.26,437.16 L192.26,437.26 L193.25,437.35 L194.25,437.43 L195.25,437.50 L196.25,437.57 L197.25,437.64 L198.25,437.69 L199.25,437.75 L200.25,437.80 L201.25,437.85 L202.25,437.89 L203.25,437.93 L204.25,437.97 L205.25,438.00 L206.26,438.03 L207.26,438.06 L208.26,438.08 L209.26,438.10 L210.26,438.13 L211.26,438.15 L212.26,438.17 L213.27,438.18 L214.27,438.20 L215.27,438.22 L216.27,438.23 L217.27,438.25 L218.27,438.26 L219.28,438.28 L220.28,438.29 L221.28,438.31 L222.28,438.32 L223.28,438.34 L224.29,438.35 L225.29,438.36 L226.29,438.38 L227.29,438.39 L228.29,438.41 L229.29,438.43 L230.30,438.44 L231.30,438.46 L232.30,438.48 L233.30,438.50 L233.30,438.50" fill="none" stroke="#777777" stroke-width="2.20" stroke-linejoin="round" stroke-linecap="butt"/>
<path d="M62.10,363.70 L62.22,362.71 L62.35,361.71 L62.47,360.72 L62.60,359.73 L62.73,358.73 L62.87,357.74 L63.01,356.75 L63.15,355.76 L63.31,354.77 L63.47,353.78 L63.64,352.80 L63.82,351.81 L64.00,350.83 L64.19,349.85 L64.39,348.86 L64.59,347.88 L64.80,346.91 L65.02,345.93 L65.25,344.95 L65.48,343.98 L65.72,343.01 L65.97,342.04 L66.21,341.07 L66.46,340.10 L66.72,339.13 L66.97,338.16 L67.23,337.19 L67.49,336.23 L67.75,335.26 L68.00,334.29 L68.26,333.32 L68.50,332.35 L68.74,331.38 L68.97,330.41 L69.19,329.43 L69.40,328.45 L69.60,327.47 L69.80,326.49 L69.99,325.51 L70.17,324.52 L70.35,323.54 L70.53,322.55 L70.71,321.57 L70.88,320.58 L71.06,319.60 L71.24,318.61 L71.42,317.63 L71.60,316.64 L71.78,315.66 L71.97,314.68 L72.16,313.69 L72.36,312.71 L72.57,311.73 L72.79,310.76 L73.01,309.78 L73.24,308.81 L73.49,307.84 L73.73,306.87 L73.99,305.90 L74.24,304.93 L74.49,303.96 L74.75,302.99 L75.00,302.02 L75.24,301.05 L75.48,300.08 L75.71,299.10 L75.93,298.13 L76.15,297.15 L76.36,296.17 L76.58,295.20 L76.79,294.22 L77.00,293.24 L77.22,292.26 L77.44,291.29 L77.66,290.31 L77.90,289.34 L78.14,288.37 L78.39,287.40 L78.65,286.43 L78.91,285.46 L79.18,284.50 L79.46,283.54 L79.74,282.58 L80.02,281.62 L80.32,280.66 L80.62,279.71 L80.94,278.76 L81.28,277.82 L81.64,276.89 L82.03,275.97 L82.45,275.06 L82.89,274.17 L83.37,273.30 L83.88,272.44 L84.42,271.60 L84.99,270.78 L85.59,270.00 L86.22,269.25 L86.90,268.57 L87.62,267.99 L88.39,267.55 L89.19,267.28 L90.01,267.21 L90.82,267.35 L91.62,267.68 L92.38,268.17 L93.10,268.77 L93.77,269.47 L94.41,270.22 L95.01,271.01 L95.57,271.83 L96.10,272.67 L96.60,273.53 L97.09,274.41 L97.55,275.29 L98.00,276.19 L98.43,277.09 L98.85,278.00 L99.26,278.91 L99.65,279.83 L100.03,280.76 L100.39,281.69 L100.74,282.63 L101.07,283.57 L101.39,284.52 L101.70,285.47 L101.99,286.43 L102.28,287.39 L102.55,288.35 L102.81,289.32 L103.07,290.28 L103.32,291.25 L103.56,292.22 L103.80,293.20 L104.03,294.17 L104.26,295.15 L104.48,296.12 L104.71,297.10 L104.92,298.07 L105.14,299.05 L105.36,300.03 L105.59,301.00 L105.82,301.98 L106.05,302.95 L106.29,303.92 L106.53,304.90 L106.77,305.87 L107.02,306.84 L107.26,307.81 L107.52,308.78 L107.77,309.74 L108.03,310.71 L108.29,311.68 L108.56,312.64 L108.83,313.61 L109.10,314.57 L109.38,315.53 L109.65,316.50 L109.93,317.46 L110.20,318.42 L110.46,319.39 L110.72,320.35 L110.97,321.32 L111.20,322.30 L111.43,323.27 L111.65,324.25 L111.87,325.22 L112.08,326.20 L112.30,327.18 L112.51,328.16 L112.73,329.14 L112.94,330.11 L113.16,331.09 L113.38,332.07 L113.60,333.04 L113.82,334.02 L114.04,335.00 L114.27,335.97 L114.49,336.95 L114.72,337.92 L114.94,338.90 L115.17,339.87 L115.40,340.85 L115.63,341.82 L115.86,342.80 L116.10,343.77 L116.33,344.74 L116.57,345.72 L116.81,346.69 L117.05,347.66 L117.29,348.63 L117.53,349.60 L117.77,350.58 L118.01,351.55 L118.26,352.52 L118.50,353.49 L118.74,354.46 L118.98,355.43 L119.23,356.40 L119.47,357.37 L119.72,358.34 L119.96,359.32 L120.21,360.29 L120.45,361.26 L120.70,362.23 L120.95,363.20 L121.20,364.17 L121.45,365.13 L121.70,366.10 L121.95,367.07 L122.20,368.04 L122.46,369.01 L122.71,369.98 L122.96,370.95 L123.22,371.92 L123.47,372.88 L123.73,373.85 L123.98,374.82 L124.24,375.79 L124.50,376.75 L124.76,377.72 L125.02,378.69 L125.29,379.65 L125.55,380.62 L125.82,381.58 L126.09,382.55 L126.36,383.51 L126.63,384.48 L126.90,385.44 L127.18,386.40 L127.45,387.36 L127.73,388.33 L128.01,389.29 L128.30,390.25 L128.59,391.20 L128.89,392.16 L129.19,393.11 L129.51,394.06 L129.82,395.01 L130.15,395.96 L130.48,396.90 L130.82,397.85 L131.16,398.79 L131.50,399.73 L131.86,400.66 L132.22,401.60 L132.59,402.53 L132.96,403.45 L133.35,404.38 L133.75,405.30 L134.16,406.21 L134.58,407.12 L135.01,408.02 L135.46,408.92 L135.91,409.80 L136.38,410.69 L136.87,411.56 L137.36,412.43 L137.87,413.30 L138.38,414.15 L138.91,415.01 L139.45,415.85 L140.00,416.68 L140.56,417.51 L141.13,418.33 L141.72,419.15 L142.31,419.95 L142.93,420.74 L143.56,421.51 L144.21,422.27 L144.87,423.02 L145.56,423.75 L146.26,424.46 L146.98,425.15 L147.72,425.82 L148.47,426.48 L149.25,427.11 L150.04,427.72 L150.84,428.31 L151.67,428.87 L152.51,429.41 L153.36,429.93 L154.23,430.42 L155.11,430.89 L156.00,431.34 L156.91,431.77 L157.82,432.17 L158.75,432.54 L159.68,432.90 L160.63,433.23 L161.58,433.53 L162.54,433.82 L163.50,434.08 L164.47,434.32 L165.44,434.55 L166.42,434.76 L167.40,434.96 L168.39,435.15 L169.37,435.33 L170.36,435.50 L171.34,435.67 L172.33,435.82 L173.32,435.97 L174.31,436.11 L175.30,436.24 L176.30,436.37 L177.29,436.48 L178.29,436.59 L179.28,436.69 L180.28,436.79 L181.28,436.88 L182.27,436.96 L183.27,437.05 L184.27,437.12 L185.27,437.20 L186.27,437.27 L187.27,437.33 L188.27,437.40 L189.26,437.45 L190.26,437.51 L191.26,437.56 L192.26,437.60 L193.26,437.65 L194.26,437.69 L195.27,437.73 L196.27,437.77 L197.27,437.80 L198.27,437.84 L199.27,437.87 L200.27,437.90 L201.27,437.93 L202.27,437.96 L203.27,437.99 L204.27,438.02 L205.27,438.04 L206.27,438.07 L207.27,438.09 L208.27,438.11 L209.28,438.13 L210.28,438.15 L211.28,438.16 L212.28,438.18 L213.28,438.20 L214.28,438.21 L215.28,438.23 L216.28,438.24 L217.28,438.26 L218.28,438.27 L219.29,438.29 L220.29,438.30 L221.29,438.32 L222.29,438.33 L223.29,438.35 L224.29,438.36 L225.29,438.37 L226.29,438.39 L227.29,438.40 L228.29,438.42 L229.30,438.43 L230.30,438.45 L231.30,438.47 L232.30,438.48 L233.30,438.50 L233.30,438.50" fill="none" stroke="#000000" stroke-width="2.20" stroke-linejoin="round" stroke-linecap="butt"/>
<path d="M62.10,344.30 L62.28,343.32 L62.47,342.33 L62.65,341.35 L62.84,340.36 L63.02,339.38 L63.21,338.40 L63.40,337.41 L63.59,336.43 L63.78,335.45 L63.97,334.47 L64.15,333.48 L64.34,332.50 L64.51,331.51 L64.67,330.53 L64.83,329.54 L64.97,328.55 L65.10,327.55 L65.23,326.56 L65.36,325.57 L65.49,324.58 L65.63,323.59 L65.79,322.60 L65.96,321.61 L66.14,320.63 L66.34,319.65 L66.55,318.67 L66.77,317.70 L67.01,316.72 L67.25,315.75 L67.50,314.78 L67.75,313.81 L68.01,312.85 L68.27,311.88 L68.54,310.92 L68.82,309.95 L69.09,308.99 L69.38,308.03 L69.67,307.08 L69.96,306.12 L70.26,305.16 L70.55,304.21 L70.85,303.25 L71.14,302.29 L71.44,301.34 L71.73,300.38 L72.02,299.42 L72.31,298.46 L72.59,297.50 L72.88,296.54 L73.16,295.58 L73.44,294.62 L73.73,293.66 L74.00,292.70 L74.28,291.74 L74.55,290.77 L74.81,289.81 L75.07,288.84 L75.33,287.88 L75.60,286.91 L75.88,285.96 L76.20,285.02 L76.57,284.11 L77.00,283.22 L77.50,282.38 L78.06,281.59 L78.70,280.86 L79.40,280.21 L80.17,279.66 L80.99,279.22 L81.85,278.92 L82.73,278.79 L83.62,278.83 L84.49,279.04 L85.34,279.40 L86.14,279.88 L86.90,280.47 L87.61,281.14 L88.27,281.87 L88.88,282.64 L89.44,283.46 L89.97,284.30 L90.46,285.17 L90.92,286.05 L91.36,286.95 L91.77,287.86 L92.16,288.78 L92.53,289.71 L92.88,290.65 L93.22,291.59 L93.54,292.53 L93.86,293.48 L94.17,294.44 L94.47,295.39 L94.77,296.34 L95.08,297.30 L95.37,298.25 L95.67,299.21 L95.95,300.17 L96.24,301.13 L96.51,302.09 L96.78,303.06 L97.04,304.02 L97.29,304.99 L97.54,305.96 L97.77,306.93 L98.00,307.91 L98.22,308.89 L98.43,309.86 L98.64,310.84 L98.85,311.82 L99.05,312.80 L99.25,313.78 L99.44,314.77 L99.63,315.75 L99.82,316.73 L100.00,317.71 L100.19,318.70 L100.37,319.68 L100.54,320.67 L100.72,321.65 L100.91,322.64 L101.09,323.62 L101.28,324.60 L101.48,325.59 L101.68,326.57 L101.89,327.54 L102.11,328.52 L102.34,329.49 L102.58,330.47 L102.83,331.44 L103.08,332.40 L103.35,333.37 L103.61,334.33 L103.88,335.30 L104.15,336.26 L104.43,337.22 L104.71,338.19 L104.98,339.15 L105.26,340.11 L105.53,341.07 L105.81,342.03 L106.09,343.00 L106.36,343.96 L106.64,344.92 L106.92,345.88 L107.20,346.84 L107.48,347.80 L107.76,348.77 L108.03,349.73 L108.30,350.69 L108.57,351.66 L108.84,352.62 L109.10,353.59 L109.36,354.55 L109.61,355.52 L109.86,356.49 L110.11,357.46 L110.35,358.43 L110.59,359.41 L110.83,360.38 L111.07,361.35 L111.30,362.32 L111.54,363.30 L111.77,364.27 L112.00,365.24 L112.22,366.22 L112.45,367.19 L112.67,368.17 L112.89,369.15 L113.11,370.13 L113.32,371.10 L113.53,372.08 L113.74,373.06 L113.95,374.04 L114.17,375.02 L114.38,375.99 L114.61,376.97 L114.83,377.94 L115.07,378.92 L115.31,379.89 L115.56,380.86 L115.82,381.82 L116.09,382.79 L116.37,383.75 L116.66,384.70 L116.97,385.66 L117.28,386.61 L117.59,387.56 L117.92,388.51 L118.25,389.45 L118.59,390.39 L118.93,391.33 L119.27,392.27 L119.62,393.21 L119.97,394.15 L120.32,395.09 L120.67,396.02 L121.03,396.96 L121.38,397.90 L121.74,398.83 L122.09,399.77 L122.46,400.70 L122.82,401.63 L123.20,402.56 L123.58,403.49 L123.97,404.41 L124.36,405.33 L124.77,406.24 L125.19,407.15 L125.61,408.06 L126.05,408.96 L126.50,409.85 L126.95,410.74 L127.42,411.63 L127.90,412.51 L128.39,413.38 L128.89,414.25 L129.40,415.11 L129.92,415.96 L130.46,416.80 L131.02,417.63 L131.59,418.45 L132.17,419.26 L132.77,420.06 L133.39,420.85 L134.01,421.63 L134.66,422.40 L135.31,423.16 L135.98,423.90 L136.66,424.63 L137.35,425.35 L138.07,426.05 L138.79,426.74 L139.54,427.40 L140.29,428.06 L141.07,428.69 L141.85,429.32 L142.64,429.92 L143.45,430.51 L144.27,431.07 L145.12,431.60 L145.98,432.10 L146.86,432.55 L147.76,432.97 L148.68,433.36 L149.62,433.71 L150.56,434.03 L151.52,434.33 L152.48,434.60 L153.44,434.86 L154.41,435.10 L155.39,435.33 L156.37,435.54 L157.35,435.73 L158.33,435.91 L159.32,436.08 L160.31,436.23 L161.30,436.36 L162.29,436.48 L163.28,436.60 L164.28,436.70 L165.28,436.79 L166.27,436.88 L167.27,436.97 L168.27,437.05 L169.27,437.13 L170.26,437.21 L171.26,437.29 L172.26,437.36 L173.26,437.43 L174.26,437.50 L175.26,437.57 L176.26,437.63 L177.25,437.69 L178.25,437.74 L179.25,437.80 L180.25,437.84 L181.25,437.89 L182.25,437.93 L183.25,437.97 L184.25,438.01 L185.25,438.05 L186.26,438.08 L187.26,438.11 L188.26,438.15 L189.26,438.17 L190.26,438.20 L191.26,438.23 L192.26,438.25 L193.26,438.27 L194.26,438.29 L195.26,438.31 L196.26,438.32 L197.26,438.34 L198.26,438.35 L199.27,438.36 L200.27,438.37 L201.27,438.38 L202.27,438.39 L203.27,438.39 L204.27,438.40 L205.27,438.41 L206.27,438.41 L207.27,438.42 L208.27,438.42 L209.28,438.43 L210.28,438.43 L211.28,438.43 L212.28,438.44 L213.28,438.44 L214.28,438.44 L215.28,438.44 L216.28,438.44 L217.28,438.45 L218.28,438.45 L219.29,438.45 L220.29,438.45 L221.29,438.45 L222.29,438.46 L223.29,438.46 L224.29,438.46 L225.29,438.46 L226.29,438.47 L227.29,438.47 L228.29,438.47 L229.30,438.48 L230.30,438.48 L231.30,438.49 L232.30,438.49 L233.30,438.50 L233.30,438.50" fill="none" stroke="#ff0000" stroke-width="2.20" stroke-linejoin="round" stroke-linecap="butt"/>
<path d="M62.10,330.00 L62.21,329.01 L62.32,328.01 L62.43,327.02 L62.54,326.02 L62.66,325.03 L62.78,324.04 L62.92,323.05 L63.07,322.06 L63.23,321.07 L63.40,320.09 L63.59,319.10 L63.78,318.12 L63.98,317.14 L64.19,316.16 L64.41,315.19 L64.63,314.21 L64.86,313.24 L65.10,312.27 L65.35,311.30 L65.60,310.33 L65.86,309.36 L66.13,308.40 L66.41,307.44 L66.69,306.48 L66.97,305.52 L67.26,304.56 L67.55,303.61 L67.84,302.65 L68.13,301.69 L68.42,300.73 L68.71,299.77 L69.00,298.82 L69.28,297.86 L69.57,296.90 L69.86,295.94 L70.14,294.98 L70.44,294.03 L70.73,293.07 L71.03,292.11 L71.33,291.16 L71.64,290.21 L71.95,289.26 L72.26,288.31 L72.58,287.36 L72.91,286.41 L73.25,285.48 L73.61,284.54 L73.99,283.63 L74.41,282.73 L74.88,281.86 L75.40,281.03 L75.98,280.26 L76.62,279.57 L77.32,278.99 L78.08,278.57 L78.88,278.34 L79.70,278.31 L80.52,278.48 L81.31,278.84 L82.07,279.34 L82.79,279.97 L83.45,280.67 L84.06,281.43 L84.63,282.24 L85.15,283.09 L85.63,283.96 L86.07,284.85 L86.50,285.75 L86.90,286.67 L87.28,287.59 L87.65,288.52 L88.01,289.45 L88.36,290.39 L88.70,291.33 L89.03,292.27 L89.35,293.22 L89.66,294.17 L89.97,295.12 L90.27,296.08 L90.57,297.03 L90.86,297.99 L91.14,298.95 L91.42,299.91 L91.69,300.87 L91.96,301.83 L92.23,302.80 L92.49,303.77 L92.74,304.73 L92.99,305.70 L93.24,306.67 L93.49,307.64 L93.73,308.61 L93.97,309.58 L94.21,310.55 L94.44,311.53 L94.68,312.50 L94.92,313.47 L95.16,314.44 L95.41,315.41 L95.65,316.38 L95.90,317.35 L96.14,318.32 L96.39,319.29 L96.63,320.26 L96.88,321.23 L97.13,322.20 L97.38,323.17 L97.63,324.14 L97.88,325.10 L98.13,326.07 L98.39,327.04 L98.65,328.01 L98.91,328.97 L99.17,329.94 L99.44,330.90 L99.71,331.86 L99.98,332.83 L100.25,333.79 L100.52,334.75 L100.80,335.72 L101.07,336.68 L101.35,337.64 L101.63,338.60 L101.90,339.56 L102.18,340.52 L102.45,341.49 L102.73,342.45 L103.01,343.41 L103.29,344.37 L103.56,345.33 L103.84,346.29 L104.12,347.25 L104.40,348.21 L104.67,349.18 L104.95,350.14 L105.22,351.10 L105.49,352.06 L105.75,353.03 L106.02,353.99 L106.28,354.96 L106.53,355.93 L106.79,356.89 L107.04,357.86 L107.29,358.83 L107.54,359.80 L107.79,360.77 L108.03,361.74 L108.27,362.71 L108.51,363.68 L108.75,364.65 L108.98,365.63 L109.21,366.60 L109.43,367.58 L109.65,368.55 L109.86,369.53 L110.07,370.51 L110.28,371.49 L110.48,372.47 L110.69,373.45 L110.89,374.43 L111.10,375.40 L111.31,376.38 L111.52,377.36 L111.75,378.33 L111.98,379.31 L112.22,380.28 L112.47,381.25 L112.73,382.21 L113.01,383.17 L113.30,384.13 L113.60,385.08 L113.91,386.03 L114.23,386.98 L114.56,387.93 L114.89,388.87 L115.24,389.81 L115.58,390.75 L115.93,391.68 L116.28,392.62 L116.64,393.56 L116.99,394.49 L117.34,395.43 L117.69,396.37 L118.04,397.30 L118.39,398.24 L118.74,399.18 L119.10,400.11 L119.46,401.05 L119.82,401.98 L120.18,402.91 L120.56,403.84 L120.94,404.76 L121.34,405.68 L121.74,406.59 L122.16,407.50 L122.58,408.41 L123.02,409.31 L123.47,410.20 L123.93,411.09 L124.40,411.97 L124.88,412.85 L125.37,413.72 L125.87,414.58 L126.39,415.44 L126.93,416.28 L127.47,417.12 L128.04,417.95 L128.61,418.76 L129.21,419.57 L129.81,420.36 L130.43,421.14 L131.07,421.92 L131.71,422.68 L132.37,423.43 L133.04,424.17 L133.73,424.90 L134.43,425.61 L135.14,426.31 L135.87,426.99 L136.61,427.66 L137.36,428.32 L138.11,428.99 L138.84,429.66 L139.58,430.33 L140.31,431.01 L141.04,431.66 L141.80,432.29 L142.60,432.87 L143.43,433.39 L144.30,433.85 L145.20,434.26 L146.12,434.63 L147.06,434.96 L148.01,435.26 L148.97,435.54 L149.93,435.79 L150.91,436.03 L151.88,436.25 L152.86,436.45 L153.84,436.64 L154.83,436.80 L155.81,436.95 L156.81,437.08 L157.80,437.19 L158.79,437.29 L159.79,437.38 L160.79,437.46 L161.79,437.53 L162.78,437.59 L163.78,437.65 L164.78,437.71 L165.78,437.77 L166.78,437.82 L167.78,437.88 L168.78,437.92 L169.78,437.97 L170.78,438.01 L171.78,438.05 L172.78,438.08 L173.78,438.11 L174.78,438.14 L175.78,438.17 L176.78,438.19 L177.78,438.21 L178.78,438.23 L179.78,438.25 L180.78,438.27 L181.78,438.28 L182.78,438.30 L183.78,438.31 L184.78,438.33 L185.78,438.34 L186.78,438.35 L187.78,438.37 L188.78,438.38 L189.78,438.40 L190.78,438.41 L191.78,438.42 L192.78,438.43 L193.78,438.45 L194.78,438.46 L195.78,438.47 L196.78,438.47 L197.78,438.48 L198.78,438.49 L199.78,438.50 L200.78,438.50 L201.79,438.51 L202.79,438.51 L203.79,438.52 L204.79,438.52 L205.79,438.53 L206.79,438.53 L207.79,438.53 L208.79,438.54 L209.79,438.54 L210.79,438.54 L211.79,438.55 L212.79,438.55 L213.79,438.55 L214.79,438.55 L215.79,438.55 L216.79,438.56 L217.79,438.56 L218.79,438.56 L219.79,438.56 L220.79,438.56 L221.79,438.57 L222.80,438.57 L223.80,438.57 L224.80,438.57 L225.80,438.57 L226.80,438.58 L227.80,438.58 L228.80,438.58 L229.80,438.59 L230.80,438.59 L231.80,438.59 L232.80,438.60 L233.30,438.60" fill="none" stroke="#1030ff" stroke-width="2.20" stroke-linejoin="round" stroke-linecap="butt"/>
<text x="191.40" y="468.90" font-size="11.70" text-anchor="middle" font-weight="bold" textLength="94.40" lengthAdjust="spacingAndGlyphs" fill="#111" >Wavelength (nm)</text>
<text x="18.20" y="348.85" font-size="11.60" text-anchor="middle" font-weight="bold" textLength="73.90" lengthAdjust="spacingAndGlyphs" transform="rotate(-90 18.20 348.85)" fill="#111" >Epsilon (a.u.)</text>
<text x="0.50" y="268.10" font-size="19.60" text-anchor="start" font-weight="bold" textLength="19.80" lengthAdjust="spacingAndGlyphs" fill="#111" >(c)</text>
<line x1="202.6" y1="278.40" x2="227.0" y2="278.40" stroke="#000000" stroke-width="2.2" stroke-linecap="round"/>
<text x="232.00" y="282.20" font-size="10.20" text-anchor="start" textLength="28.60" lengthAdjust="spacingAndGlyphs" fill="#222" stroke="#222" stroke-width="0.22" >CA-TiO</text>
<text x="260.80" y="286.80" font-size="6.00" text-anchor="start" fill="#222" >2</text>
<line x1="202.6" y1="295.95" x2="227.0" y2="295.95" stroke="#ff0000" stroke-width="2.2" stroke-linecap="round"/>
<text x="232.00" y="299.75" font-size="10.20" text-anchor="start" textLength="28.60" lengthAdjust="spacingAndGlyphs" fill="#222" stroke="#222" stroke-width="0.22" >FA_TiO</text>
<text x="260.80" y="304.35" font-size="6.00" text-anchor="start" fill="#222" >2</text>
<line x1="202.6" y1="313.50" x2="227.0" y2="313.50" stroke="#1030ff" stroke-width="2.2" stroke-linecap="round"/>
<text x="232.00" y="317.30" font-size="10.20" text-anchor="start" textLength="28.60" lengthAdjust="spacingAndGlyphs" fill="#222" stroke="#222" stroke-width="0.22" >PA-TiO</text>
<text x="260.80" y="321.90" font-size="6.00" text-anchor="start" fill="#222" >2</text>
<line x1="202.6" y1="331.05" x2="227.0" y2="331.05" stroke="#777777" stroke-width="2.2" stroke-linecap="round"/>
<text x="232.00" y="334.85" font-size="10.20" text-anchor="start" textLength="28.60" lengthAdjust="spacingAndGlyphs" fill="#222" stroke="#222" stroke-width="0.22" >CA-TiO</text>
<text x="260.80" y="339.45" font-size="6.00" text-anchor="start" fill="#222" >2</text>
<text x="263.80" y="334.85" font-size="10.20" text-anchor="start" textLength="41.60" lengthAdjust="spacingAndGlyphs" fill="#222" stroke="#222" stroke-width="0.22" >(catechol)</text>
<rect x="409.60" y="258.00" width="258.70" height="181.00" fill="none" stroke="#000" stroke-width="1.60"/>
<line x1="409.60" y1="439.00" x2="409.60" y2="443.00" stroke="#000" stroke-width="1.2"/>
<text x="409.60" y="452.80" font-size="9.00" text-anchor="middle" textLength="15.40" lengthAdjust="spacingAndGlyphs" fill="#222" stroke="#222" stroke-width="0.22" >350</text>
<line x1="431.16" y1="439.00" x2="431.16" y2="441.50" stroke="#000" stroke-width="1.2"/>
<line x1="452.72" y1="439.00" x2="452.72" y2="443.00" stroke="#000" stroke-width="1.2"/>
<text x="452.72" y="452.80" font-size="9.00" text-anchor="middle" textLength="15.40" lengthAdjust="spacingAndGlyphs" fill="#222" stroke="#222" stroke-width="0.22" >400</text>
<line x1="474.28" y1="439.00" x2="474.28" y2="441.50" stroke="#000" stroke-width="1.2"/>
<line x1="495.83" y1="439.00" x2="495.83" y2="443.00" stroke="#000" stroke-width="1.2"/>
<text x="495.83" y="452.80" font-size="9.00" text-anchor="middle" textLength="15.40" lengthAdjust="spacingAndGlyphs" fill="#222" stroke="#222" stroke-width="0.22" >450</text>
<line x1="517.39" y1="439.00" x2="517.39" y2="441.50" stroke="#000" stroke-width="1.2"/>
<line x1="538.95" y1="439.00" x2="538.95" y2="443.00" stroke="#000" stroke-width="1.2"/>
<text x="538.95" y="452.80" font-size="9.00" text-anchor="middle" textLength="15.40" lengthAdjust="spacingAndGlyphs" fill="#222" stroke="#222" stroke-width="0.22" >500</text>
<line x1="560.51" y1="439.00" x2="560.51" y2="441.50" stroke="#000" stroke-width="1.2"/>
<line x1="582.07" y1="439.00" x2="582.07" y2="443.00" stroke="#000" stroke-width="1.2"/>
<text x="582.07" y="452.80" font-size="9.00" text-anchor="middle" textLength="15.40" lengthAdjust="spacingAndGlyphs" fill="#222" stroke="#222" stroke-width="0.22" >550</text>
<line x1="603.62" y1="439.00" x2="603.62" y2="441.50" stroke="#000" stroke-width="1.2"/>
<line x1="625.18" y1="439.00" x2="625.18" y2="443.00" stroke="#000" stroke-width="1.2"/>
<text x="625.18" y="452.80" font-size="9.00" text-anchor="middle" textLength="15.40" lengthAdjust="spacingAndGlyphs" fill="#222" stroke="#222" stroke-width="0.22" >600</text>
<line x1="646.74" y1="439.00" x2="646.74" y2="441.50" stroke="#000" stroke-width="1.2"/>
<line x1="668.30" y1="439.00" x2="668.30" y2="443.00" stroke="#000" stroke-width="1.2"/>
<text x="668.30" y="452.80" font-size="9.00" text-anchor="middle" textLength="15.40" lengthAdjust="spacingAndGlyphs" fill="#222" stroke="#222" stroke-width="0.22" >650</text>
<line x1="405.60" y1="439.00" x2="409.60" y2="439.00" stroke="#000" stroke-width="1.2"/>
<line x1="407.10" y1="423.92" x2="409.60" y2="423.92" stroke="#000" stroke-width="1.2"/>
<text x="403.60" y="442.20" font-size="9.00" text-anchor="end" textLength="12.50" lengthAdjust="spacingAndGlyphs" fill="#222" stroke="#222" stroke-width="0.22" >0.0</text>
<line x1="405.60" y1="408.83" x2="409.60" y2="408.83" stroke="#000" stroke-width="1.2"/>
<line x1="407.10" y1="393.75" x2="409.60" y2="393.75" stroke="#000" stroke-width="1.2"/>
<text x="403.60" y="412.03" font-size="9.00" text-anchor="end" textLength="12.50" lengthAdjust="spacingAndGlyphs" fill="#222" stroke="#222" stroke-width="0.22" >0.5</text>
<line x1="405.60" y1="378.67" x2="409.60" y2="378.67" stroke="#000" stroke-width="1.2"/>
<line x1="407.10" y1="363.58" x2="409.60" y2="363.58" stroke="#000" stroke-width="1.2"/>
<text x="403.60" y="381.87" font-size="9.00" text-anchor="end" textLength="12.50" lengthAdjust="spacingAndGlyphs" fill="#222" stroke="#222" stroke-width="0.22" >1.0</text>
<line x1="405.60" y1="348.50" x2="409.60" y2="348.50" stroke="#000" stroke-width="1.2"/>
<line x1="407.10" y1="333.42" x2="409.60" y2="333.42" stroke="#000" stroke-width="1.2"/>
<text x="403.60" y="351.70" font-size="9.00" text-anchor="end" textLength="12.50" lengthAdjust="spacingAndGlyphs" fill="#222" stroke="#222" stroke-width="0.22" >1.5</text>
<line x1="405.60" y1="318.33" x2="409.60" y2="318.33" stroke="#000" stroke-width="1.2"/>
<line x1="407.10" y1="303.25" x2="409.60" y2="303.25" stroke="#000" stroke-width="1.2"/>
<text x="403.60" y="321.53" font-size="9.00" text-anchor="end" textLength="12.50" lengthAdjust="spacingAndGlyphs" fill="#222" stroke="#222" stroke-width="0.22" >2.0</text>
<line x1="405.60" y1="288.17" x2="409.60" y2="288.17" stroke="#000" stroke-width="1.2"/>
<line x1="407.10" y1="273.08" x2="409.60" y2="273.08" stroke="#000" stroke-width="1.2"/>
<text x="403.60" y="291.37" font-size="9.00" text-anchor="end" textLength="12.50" lengthAdjust="spacingAndGlyphs" fill="#222" stroke="#222" stroke-width="0.22" >2.5</text>
<line x1="405.60" y1="258.00" x2="409.60" y2="258.00" stroke="#000" stroke-width="1.2"/>
<text x="403.60" y="261.20" font-size="9.00" text-anchor="end" textLength="12.50" lengthAdjust="spacingAndGlyphs" fill="#222" stroke="#222" stroke-width="0.22" >3.0</text>
<path d="M410.10,303.20 L411.00,303.62 L411.88,304.07 L412.74,304.55 L413.55,305.09 L414.32,305.70 L415.02,306.37 L415.65,307.11 L416.22,307.90 L416.71,308.74 L417.15,309.63 L417.53,310.54 L417.86,311.47 L418.17,312.42 L418.45,313.38 L418.72,314.34 L418.97,315.31 L419.22,316.28 L419.46,317.25 L419.70,318.22 L419.94,319.19 L420.20,320.16 L420.45,321.13 L420.72,322.09 L420.98,323.06 L421.26,324.02 L421.53,324.98 L421.81,325.95 L422.08,326.91 L422.35,327.87 L422.61,328.84 L422.87,329.80 L423.13,330.77 L423.38,331.74 L423.63,332.71 L423.87,333.68 L424.11,334.65 L424.35,335.62 L424.58,336.60 L424.81,337.57 L425.03,338.55 L425.25,339.52 L425.47,340.50 L425.68,341.48 L425.90,342.45 L426.11,343.43 L426.32,344.41 L426.54,345.39 L426.75,346.37 L426.96,347.34 L427.17,348.32 L427.39,349.30 L427.61,350.27 L427.85,351.24 L428.10,352.21 L428.37,353.17 L428.66,354.13 L428.98,355.08 L429.32,356.02 L429.68,356.95 L430.06,357.87 L430.45,358.79 L430.87,359.70 L431.30,360.60 L431.75,361.50 L432.20,362.39 L432.68,363.27 L433.16,364.14 L433.66,365.01 L434.17,365.87 L434.69,366.72 L435.23,367.57 L435.78,368.40 L436.33,369.23 L436.90,370.06 L437.48,370.87 L438.07,371.68 L438.67,372.48 L439.29,373.27 L439.91,374.05 L440.54,374.83 L441.19,375.59 L441.84,376.34 L442.51,377.09 L443.18,377.83 L443.86,378.57 L444.53,379.31 L445.21,380.04 L445.89,380.78 L446.57,381.51 L447.26,382.24 L447.95,382.96 L448.65,383.67 L449.36,384.38 L450.08,385.08 L450.80,385.77 L451.53,386.46 L452.26,387.14 L452.99,387.82 L453.73,388.49 L454.48,389.16 L455.23,389.82 L455.98,390.48 L456.74,391.14 L457.50,391.79 L458.27,392.43 L459.04,393.07 L459.81,393.70 L460.59,394.32 L461.38,394.95 L462.17,395.56 L462.96,396.17 L463.76,396.77 L464.56,397.37 L465.36,397.97 L466.17,398.55 L466.99,399.14 L467.81,399.71 L468.63,400.28 L469.46,400.84 L470.29,401.40 L471.12,401.95 L471.96,402.50 L472.80,403.04 L473.65,403.58 L474.50,404.10 L475.35,404.63 L476.21,405.14 L477.07,405.65 L477.93,406.16 L478.80,406.66 L479.67,407.15 L480.55,407.64 L481.42,408.12 L482.30,408.59 L483.19,409.06 L484.08,409.52 L484.97,409.98 L485.86,410.43 L486.76,410.87 L487.65,411.31 L488.56,411.75 L489.46,412.17 L490.37,412.59 L491.28,413.01 L492.19,413.42 L493.11,413.82 L494.03,414.22 L494.95,414.62 L495.87,415.00 L496.79,415.38 L497.72,415.76 L498.65,416.13 L499.58,416.50 L500.52,416.86 L501.45,417.21 L502.39,417.56 L503.33,417.90 L504.27,418.24 L505.21,418.57 L506.16,418.90 L507.11,419.22 L508.06,419.54 L509.01,419.86 L509.96,420.16 L510.91,420.47 L511.87,420.77 L512.82,421.06 L513.78,421.35 L514.74,421.63 L515.70,421.91 L516.66,422.19 L517.63,422.46 L518.59,422.72 L519.56,422.99 L520.52,423.24 L521.49,423.50 L522.46,423.75 L523.43,423.99 L524.40,424.23 L525.38,424.47 L526.35,424.70 L527.32,424.93 L528.30,425.16 L529.27,425.38 L530.25,425.59 L531.23,425.81 L532.21,426.02 L533.19,426.22 L534.17,426.43 L535.15,426.63 L536.13,426.82 L537.11,427.01 L538.09,427.20 L539.08,427.39 L540.06,427.57 L541.04,427.75 L542.03,427.93 L543.01,428.10 L544.00,428.27 L544.99,428.44 L545.97,428.60 L546.96,428.77 L547.95,428.92 L548.94,429.08 L549.93,429.23 L550.92,429.38 L551.91,429.53 L552.90,429.68 L553.89,429.82 L554.88,429.96 L555.87,430.10 L556.86,430.23 L557.85,430.36 L558.84,430.49 L559.84,430.62 L560.83,430.74 L561.82,430.87 L562.82,430.98 L563.81,431.10 L564.81,431.22 L565.80,431.33 L566.79,431.45 L567.79,431.56 L568.78,431.67 L569.78,431.78 L570.77,431.88 L571.77,431.99 L572.76,432.09 L573.76,432.19 L574.75,432.29 L575.75,432.39 L576.75,432.48 L577.74,432.57 L578.74,432.66 L579.74,432.75 L580.73,432.84 L581.73,432.92 L582.73,433.01 L583.73,433.09 L584.72,433.17 L585.72,433.25 L586.72,433.33 L587.72,433.41 L588.71,433.48 L589.71,433.56 L590.71,433.63 L591.71,433.70 L592.71,433.77 L593.70,433.84 L594.70,433.91 L595.70,433.97 L596.70,434.04 L597.70,434.10 L598.70,434.17 L599.70,434.23 L600.70,434.29 L601.69,434.35 L602.69,434.41 L603.69,434.46 L604.69,434.52 L605.69,434.58 L606.69,434.63 L607.69,434.68 L608.69,434.74 L609.69,434.79 L610.69,434.84 L611.69,434.89 L612.69,434.94 L613.69,434.98 L614.69,435.03 L615.69,435.08 L616.69,435.12 L617.68,435.17 L618.68,435.21 L619.68,435.25 L620.68,435.29 L621.68,435.33 L622.68,435.38 L623.68,435.41 L624.68,435.45 L625.68,435.49 L626.68,435.53 L627.68,435.57 L628.68,435.60 L629.68,435.64 L630.68,435.67 L631.68,435.71 L632.68,435.74 L633.69,435.77 L634.69,435.81 L635.69,435.84 L636.69,435.87 L637.69,435.90 L638.69,435.93 L639.69,435.96 L640.69,435.99 L641.69,436.02 L642.69,436.04 L643.69,436.07 L644.69,436.10 L645.69,436.13 L646.69,436.15 L647.69,436.18 L648.69,436.20 L649.69,436.23 L650.69,436.25 L651.69,436.27 L652.69,436.30 L653.69,436.32 L654.69,436.34 L655.69,436.36 L656.69,436.39 L657.69,436.41 L658.69,436.43 L659.70,436.45 L660.70,436.47 L661.70,436.49 L662.70,436.51 L663.70,436.53 L664.70,436.54 L665.70,436.56 L666.70,436.58 L667.70,436.60 L668.20,436.61" fill="none" stroke="#000000" stroke-width="2.40" stroke-linejoin="round" stroke-linecap="butt"/>
<path d="M410.10,325.60 L410.93,326.16 L411.74,326.73 L412.52,327.34 L413.27,327.98 L413.98,328.67 L414.64,329.40 L415.24,330.18 L415.79,331.00 L416.29,331.85 L416.73,332.74 L417.12,333.65 L417.48,334.58 L417.80,335.52 L418.10,336.48 L418.39,337.43 L418.68,338.39 L418.97,339.35 L419.26,340.31 L419.54,341.27 L419.83,342.23 L420.11,343.19 L420.39,344.15 L420.65,345.12 L420.89,346.09 L421.12,347.06 L421.32,348.04 L421.50,349.02 L421.65,350.01 L421.79,351.00 L421.91,351.99 L422.03,352.99 L422.15,353.98 L422.27,354.97 L422.41,355.97 L422.55,356.96 L422.72,357.94 L422.90,358.93 L423.09,359.91 L423.30,360.89 L423.52,361.86 L423.75,362.84 L423.98,363.81 L424.22,364.78 L424.47,365.75 L424.72,366.72 L424.98,367.69 L425.25,368.65 L425.52,369.62 L425.80,370.58 L426.08,371.54 L426.37,372.50 L426.66,373.46 L426.96,374.41 L427.27,375.37 L427.58,376.32 L427.90,377.26 L428.24,378.21 L428.59,379.15 L428.95,380.08 L429.33,381.00 L429.74,381.91 L430.17,382.82 L430.62,383.71 L431.08,384.59 L431.57,385.47 L432.06,386.34 L432.56,387.21 L433.06,388.07 L433.58,388.93 L434.10,389.79 L434.63,390.64 L435.16,391.48 L435.71,392.32 L436.26,393.15 L436.83,393.98 L437.40,394.80 L437.99,395.61 L438.58,396.42 L439.18,397.22 L439.80,398.01 L440.42,398.79 L441.05,399.57 L441.70,400.33 L442.35,401.09 L443.02,401.84 L443.69,402.58 L444.38,403.31 L445.07,404.03 L445.78,404.74 L446.49,405.44 L447.22,406.13 L447.95,406.80 L448.70,407.47 L449.45,408.13 L450.22,408.77 L450.99,409.41 L451.78,410.03 L452.57,410.64 L453.37,411.24 L454.18,411.83 L455.00,412.40 L455.83,412.96 L456.66,413.52 L457.50,414.06 L458.35,414.58 L459.21,415.10 L460.08,415.60 L460.95,416.10 L461.82,416.58 L462.71,417.05 L463.60,417.51 L464.49,417.95 L465.39,418.39 L466.30,418.82 L467.21,419.23 L468.13,419.64 L469.05,420.03 L469.97,420.41 L470.90,420.79 L471.83,421.15 L472.77,421.51 L473.70,421.86 L474.65,422.20 L475.59,422.52 L476.54,422.85 L477.49,423.16 L478.44,423.46 L479.40,423.76 L480.36,424.05 L481.32,424.33 L482.28,424.61 L483.25,424.88 L484.21,425.14 L485.18,425.39 L486.15,425.64 L487.12,425.88 L488.10,426.12 L489.07,426.35 L490.05,426.58 L491.02,426.80 L492.00,427.01 L492.98,427.22 L493.96,427.43 L494.94,427.63 L495.92,427.82 L496.91,428.01 L497.89,428.20 L498.87,428.38 L499.86,428.56 L500.85,428.73 L501.83,428.90 L502.82,429.07 L503.81,429.23 L504.80,429.39 L505.79,429.54 L506.77,429.69 L507.77,429.84 L508.76,429.99 L509.75,430.13 L510.74,430.27 L511.73,430.41 L512.72,430.54 L513.72,430.67 L514.71,430.80 L515.70,430.93 L516.70,431.05 L517.69,431.17 L518.68,431.29 L519.68,431.40 L520.67,431.52 L521.67,431.63 L522.66,431.74 L523.66,431.84 L524.66,431.95 L525.65,432.05 L526.65,432.15 L527.64,432.25 L528.64,432.35 L529.64,432.44 L530.63,432.53 L531.63,432.62 L532.63,432.71 L533.63,432.80 L534.62,432.89 L535.62,432.97 L536.62,433.06 L537.62,433.14 L538.62,433.22 L539.61,433.30 L540.61,433.37 L541.61,433.45 L542.61,433.52 L543.61,433.60 L544.61,433.67 L545.61,433.74 L546.60,433.81 L547.60,433.87 L548.60,433.94 L549.60,434.01 L550.60,434.07 L551.60,434.13 L552.60,434.20 L553.60,434.26 L554.60,434.32 L555.60,434.37 L556.60,434.43 L557.60,434.49 L558.60,434.54 L559.60,434.60 L560.60,434.65 L561.60,434.70 L562.60,434.75 L563.60,434.80 L564.60,434.85 L565.60,434.90 L566.60,434.95 L567.60,435.00 L568.60,435.05 L569.60,435.09 L570.60,435.14 L571.60,435.18 L572.60,435.23 L573.60,435.27 L574.60,435.31 L575.60,435.36 L576.60,435.40 L577.60,435.44 L578.60,435.48 L579.60,435.51 L580.60,435.55 L581.60,435.59 L582.60,435.63 L583.61,435.66 L584.61,435.70 L585.61,435.73 L586.61,435.77 L587.61,435.80 L588.61,435.83 L589.61,435.86 L590.61,435.90 L591.61,435.93 L592.61,435.96 L593.61,435.99 L594.61,436.02 L595.62,436.05 L596.62,436.08 L597.62,436.11 L598.62,436.13 L599.62,436.16 L600.62,436.19 L601.62,436.21 L602.62,436.24 L603.62,436.27 L604.62,436.29 L605.62,436.32 L606.63,436.34 L607.63,436.36 L608.63,436.39 L609.63,436.41 L610.63,436.43 L611.63,436.46 L612.63,436.48 L613.63,436.50 L614.63,436.52 L615.64,436.54 L616.64,436.56 L617.64,436.58 L618.64,436.60 L619.64,436.62 L620.64,436.64 L621.64,436.66 L622.64,436.68 L623.64,436.70 L624.65,436.71 L625.65,436.73 L626.65,436.75 L627.65,436.77 L628.65,436.78 L629.65,436.80 L630.65,436.81 L631.65,436.83 L632.66,436.85 L633.66,436.86 L634.66,436.88 L635.66,436.89 L636.66,436.91 L637.66,436.92 L638.66,436.93 L639.66,436.95 L640.67,436.96 L641.67,436.98 L642.67,436.99 L643.67,437.00 L644.67,437.01 L645.67,437.03 L646.67,437.04 L647.67,437.05 L648.68,437.06 L649.68,437.08 L650.68,437.09 L651.68,437.10 L652.68,437.11 L653.68,437.12 L654.68,437.13 L655.68,437.14 L656.69,437.15 L657.69,437.16 L658.69,437.17 L659.69,437.18 L660.69,437.19 L661.69,437.20 L662.69,437.21 L663.69,437.22 L664.70,437.23 L665.70,437.24 L666.70,437.25 L667.70,437.26 L668.20,437.26" fill="none" stroke="#ff0000" stroke-width="2.40" stroke-linejoin="round" stroke-linecap="butt"/>
<path d="M410.10,332.90 L410.87,333.54 L411.62,334.19 L412.35,334.86 L413.04,335.57 L413.69,336.32 L414.29,337.10 L414.85,337.92 L415.37,338.77 L415.85,339.64 L416.29,340.54 L416.70,341.44 L417.08,342.37 L417.43,343.30 L417.76,344.25 L418.06,345.20 L418.35,346.16 L418.61,347.12 L418.86,348.09 L419.08,349.07 L419.29,350.04 L419.49,351.03 L419.67,352.01 L419.85,352.99 L420.03,353.98 L420.21,354.96 L420.40,355.95 L420.60,356.93 L420.81,357.91 L421.03,358.88 L421.27,359.85 L421.51,360.83 L421.76,361.80 L422.01,362.76 L422.27,363.73 L422.54,364.70 L422.81,365.66 L423.08,366.63 L423.35,367.59 L423.63,368.55 L423.91,369.51 L424.20,370.47 L424.48,371.43 L424.77,372.39 L425.06,373.35 L425.36,374.31 L425.66,375.26 L425.96,376.22 L426.26,377.17 L426.58,378.12 L426.90,379.07 L427.24,380.01 L427.59,380.95 L427.95,381.88 L428.33,382.80 L428.73,383.72 L429.15,384.63 L429.58,385.53 L430.03,386.43 L430.49,387.32 L430.96,388.20 L431.44,389.08 L431.92,389.96 L432.41,390.83 L432.91,391.70 L433.41,392.56 L433.93,393.42 L434.45,394.28 L434.98,395.13 L435.52,395.97 L436.07,396.80 L436.64,397.63 L437.21,398.45 L437.80,399.26 L438.40,400.06 L439.01,400.85 L439.63,401.64 L440.26,402.41 L440.91,403.18 L441.56,403.93 L442.23,404.68 L442.91,405.41 L443.60,406.14 L444.31,406.85 L445.02,407.55 L445.75,408.23 L446.49,408.91 L447.24,409.57 L448.00,410.22 L448.77,410.86 L449.55,411.48 L450.34,412.09 L451.14,412.69 L451.96,413.28 L452.78,413.85 L453.61,414.41 L454.45,414.95 L455.29,415.49 L456.15,416.01 L457.01,416.51 L457.88,417.01 L458.76,417.49 L459.64,417.96 L460.53,418.42 L461.43,418.86 L462.33,419.30 L463.24,419.72 L464.15,420.13 L465.07,420.53 L465.99,420.92 L466.92,421.30 L467.85,421.67 L468.78,422.03 L469.72,422.38 L470.66,422.72 L471.60,423.05 L472.55,423.38 L473.50,423.69 L474.46,424.00 L475.41,424.30 L476.37,424.59 L477.33,424.88 L478.29,425.15 L479.25,425.42 L480.22,425.69 L481.19,425.94 L482.16,426.19 L483.13,426.44 L484.10,426.68 L485.07,426.91 L486.05,427.14 L487.03,427.36 L488.00,427.58 L488.98,427.79 L489.96,428.00 L490.94,428.20 L491.92,428.40 L492.91,428.59 L493.89,428.78 L494.87,428.97 L495.86,429.15 L496.84,429.33 L497.83,429.50 L498.82,429.67 L499.80,429.84 L500.79,430.00 L501.78,430.16 L502.77,430.31 L503.76,430.47 L504.75,430.61 L505.74,430.76 L506.73,430.90 L507.72,431.04 L508.72,431.18 L509.71,431.32 L510.70,431.45 L511.69,431.58 L512.69,431.71 L513.68,431.83 L514.67,431.95 L515.67,432.07 L516.66,432.19 L517.66,432.30 L518.65,432.42 L519.65,432.53 L520.64,432.63 L521.64,432.74 L522.64,432.85 L523.63,432.95 L524.63,433.05 L525.62,433.15 L526.62,433.24 L527.62,433.34 L528.62,433.43 L529.61,433.52 L530.61,433.61 L531.61,433.70 L532.61,433.79 L533.60,433.87 L534.60,433.95 L535.60,434.03 L536.60,434.11 L537.60,434.19 L538.59,434.27 L539.59,434.34 L540.59,434.42 L541.59,434.49 L542.59,434.56 L543.59,434.63 L544.59,434.70 L545.59,434.77 L546.59,434.84 L547.58,434.90 L548.58,434.96 L549.58,435.03 L550.58,435.09 L551.58,435.15 L552.58,435.21 L553.58,435.27 L554.58,435.32 L555.58,435.38 L556.58,435.44 L557.58,435.49 L558.58,435.54 L559.58,435.59 L560.58,435.64 L561.58,435.69 L562.58,435.74 L563.58,435.79 L564.58,435.84 L565.58,435.88 L566.58,435.93 L567.58,435.98 L568.58,436.02 L569.58,436.07 L570.59,436.11 L571.59,436.15 L572.59,436.19 L573.59,436.23 L574.59,436.27 L575.59,436.31 L576.59,436.35 L577.59,436.39 L578.59,436.42 L579.59,436.46 L580.59,436.50 L581.59,436.53 L582.59,436.57 L583.59,436.60 L584.60,436.63 L585.60,436.66 L586.60,436.70 L587.60,436.73 L588.60,436.76 L589.60,436.79 L590.60,436.82 L591.60,436.85 L592.60,436.88 L593.60,436.90 L594.61,436.93 L595.61,436.96 L596.61,436.98 L597.61,437.01 L598.61,437.04 L599.61,437.06 L600.61,437.09 L601.61,437.11 L602.61,437.13 L603.62,437.16 L604.62,437.18 L605.62,437.20 L606.62,437.23 L607.62,437.25 L608.62,437.27 L609.62,437.29 L610.62,437.31 L611.62,437.33 L612.63,437.35 L613.63,437.37 L614.63,437.39 L615.63,437.41 L616.63,437.43 L617.63,437.44 L618.63,437.46 L619.63,437.48 L620.64,437.50 L621.64,437.51 L622.64,437.53 L623.64,437.55 L624.64,437.56 L625.64,437.58 L626.64,437.59 L627.64,437.61 L628.65,437.62 L629.65,437.64 L630.65,437.65 L631.65,437.67 L632.65,437.68 L633.65,437.69 L634.65,437.71 L635.66,437.72 L636.66,437.73 L637.66,437.74 L638.66,437.76 L639.66,437.77 L640.66,437.78 L641.66,437.79 L642.66,437.80 L643.67,437.82 L644.67,437.83 L645.67,437.84 L646.67,437.85 L647.67,437.86 L648.67,437.87 L649.67,437.88 L650.68,437.89 L651.68,437.90 L652.68,437.91 L653.68,437.92 L654.68,437.93 L655.68,437.94 L656.68,437.94 L657.69,437.95 L658.69,437.96 L659.69,437.97 L660.69,437.98 L661.69,437.99 L662.69,437.99 L663.69,438.00 L664.70,438.01 L665.70,438.02 L666.70,438.03 L667.70,438.03 L668.20,438.04" fill="none" stroke="#0000ee" stroke-width="2.40" stroke-linejoin="round" stroke-linecap="butt"/>
<text x="539.30" y="472.00" font-size="11.70" text-anchor="middle" font-weight="bold" textLength="94.40" lengthAdjust="spacingAndGlyphs" fill="#111" >Wavelength (nm)</text>
<text x="370.30" y="349.00" font-size="11.40" text-anchor="middle" font-weight="bold" textLength="92.70" lengthAdjust="spacingAndGlyphs" transform="rotate(-90 370.30 349.00)" fill="#111" >Absorbance (a.u)</text>
<text x="355.30" y="268.10" font-size="19.60" text-anchor="start" font-weight="bold" textLength="24.10" lengthAdjust="spacingAndGlyphs" fill="#111" >(d)</text>
<line x1="592.0" y1="278.90" x2="616.4" y2="278.90" stroke="#000000" stroke-width="2.2" stroke-linecap="round"/>
<text x="621.40" y="282.80" font-size="10.20" text-anchor="start" textLength="28.70" lengthAdjust="spacingAndGlyphs" fill="#222" stroke="#222" stroke-width="0.22" >CA-TiO</text>
<text x="650.20" y="287.00" font-size="6.00" text-anchor="start" fill="#222" >2</text>
<line x1="592.0" y1="296.40" x2="616.4" y2="296.40" stroke="#ff0000" stroke-width="2.2" stroke-linecap="round"/>
<text x="621.40" y="300.30" font-size="10.20" text-anchor="start" textLength="28.70" lengthAdjust="spacingAndGlyphs" fill="#222" stroke="#222" stroke-width="0.22" >FA-TiO</text>
<text x="650.20" y="304.50" font-size="6.00" text-anchor="start" fill="#222" >2</text>
<line x1="592.0" y1="313.90" x2="616.4" y2="313.90" stroke="#0000ee" stroke-width="2.2" stroke-linecap="round"/>
<text x="621.40" y="317.80" font-size="10.20" text-anchor="start" textLength="28.70" lengthAdjust="spacingAndGlyphs" fill="#222" stroke="#222" stroke-width="0.22" >PA-TiO</text>
<text x="650.20" y="322.00" font-size="6.00" text-anchor="start" fill="#222" >2</text>
</g></svg>
</body></html>
